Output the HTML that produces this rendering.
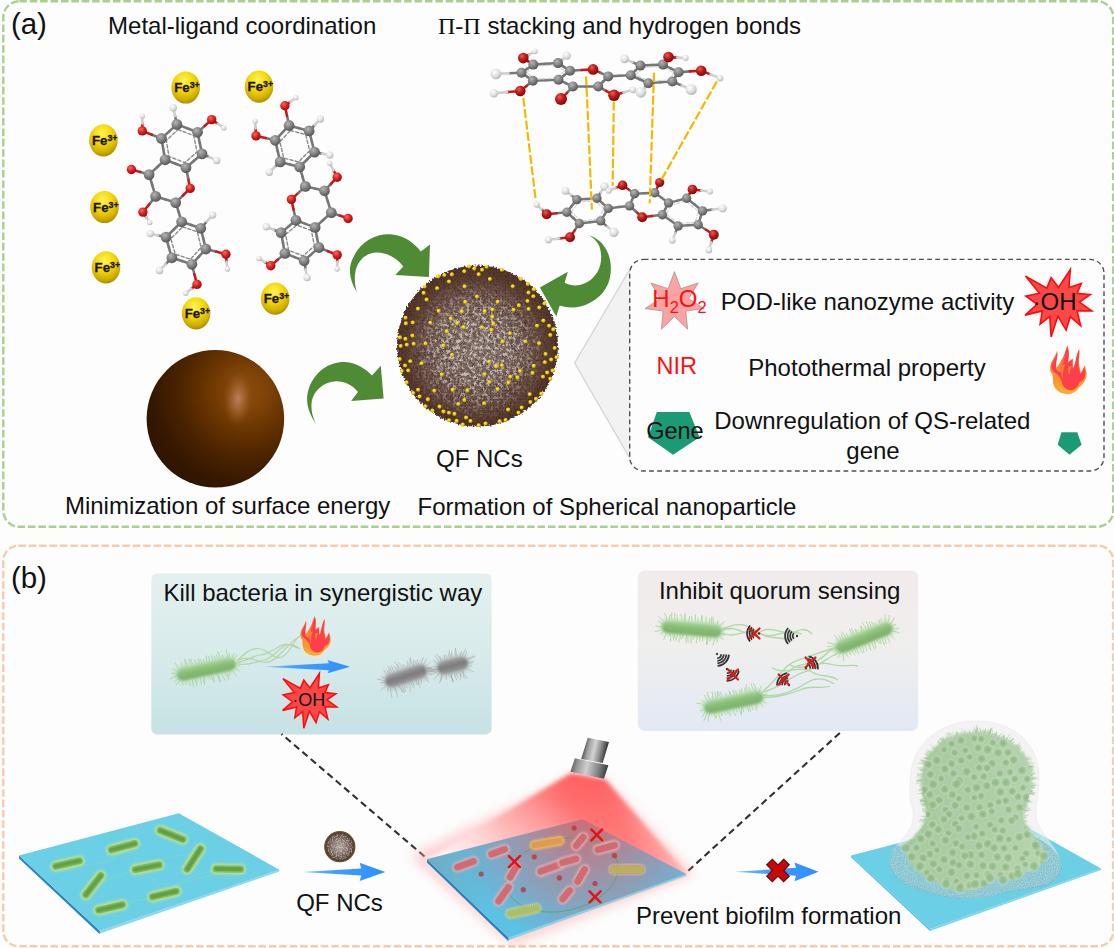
<!DOCTYPE html>
<html><head><meta charset="utf-8"><title>QF NCs schematic</title>
<style>html,body{margin:0;padding:0;background:#fdfdfd;width:1114px;height:948px;overflow:hidden;font-family:"Liberation Sans",sans-serif;}svg{display:block}</style></head>
<body><svg width="1114" height="948" viewBox="0 0 1114 948">
<defs>
<radialGradient id="gC" cx="0.38" cy="0.32" r="0.75"><stop offset="0" stop-color="#b4b4b4"/><stop offset="0.55" stop-color="#7d7d7d"/><stop offset="1" stop-color="#4e4e4e"/></radialGradient>
<radialGradient id="gO" cx="0.38" cy="0.32" r="0.75"><stop offset="0" stop-color="#ff6a5a"/><stop offset="0.5" stop-color="#d81e1e"/><stop offset="1" stop-color="#8a0a0a"/></radialGradient>
<radialGradient id="gO2" cx="0.38" cy="0.32" r="0.75"><stop offset="0" stop-color="#ee5a4e"/><stop offset="0.45" stop-color="#c01a1a"/><stop offset="1" stop-color="#6e0808"/></radialGradient>
<radialGradient id="gH" cx="0.38" cy="0.32" r="0.8"><stop offset="0" stop-color="#ffffff"/><stop offset="0.55" stop-color="#dcdcdc"/><stop offset="1" stop-color="#a4a4a4"/></radialGradient>
<radialGradient id="gFe" cx="0.45" cy="0.3" r="0.8"><stop offset="0" stop-color="#fff25e"/><stop offset="0.4" stop-color="#f4d808"/><stop offset="0.72" stop-color="#cfae00"/><stop offset="1" stop-color="#8e7600"/></radialGradient>

<radialGradient id="gBrown" cx="0.72" cy="0.3" r="0.98" fx="0.72" fy="0.3"><stop offset="0" stop-color="#8a4a0c"/><stop offset="0.14" stop-color="#814408"/><stop offset="0.3" stop-color="#683400"/><stop offset="0.5" stop-color="#4a2300"/><stop offset="0.7" stop-color="#341700"/><stop offset="1" stop-color="#271000"/></radialGradient>
<radialGradient id="gBrownHi" cx="0.5" cy="0.5" r="0.5"><stop offset="0" stop-color="#c89070" stop-opacity="0.8"/><stop offset="0.5" stop-color="#b87a50" stop-opacity="0.45"/><stop offset="1" stop-color="#a0602c" stop-opacity="0"/></radialGradient>

<radialGradient id="gNC" cx="0.5" cy="0.5" r="0.5"><stop offset="0" stop-color="#84726a"/><stop offset="0.45" stop-color="#78635a"/><stop offset="0.72" stop-color="#664a40"/><stop offset="0.9" stop-color="#593b30"/><stop offset="1" stop-color="#50342a"/></radialGradient>
<radialGradient id="gNCw" cx="0.5" cy="0.52" r="0.5"><stop offset="0" stop-color="#fff" stop-opacity="1"/><stop offset="0.55" stop-color="#fff" stop-opacity="0.85"/><stop offset="0.85" stop-color="#fff" stop-opacity="0.25"/><stop offset="1" stop-color="#fff" stop-opacity="0"/></radialGradient>
<radialGradient id="gY" cx="0.4" cy="0.35" r="0.7"><stop offset="0" stop-color="#fff04a"/><stop offset="0.55" stop-color="#e6c808"/><stop offset="1" stop-color="#a88600"/></radialGradient>
<filter id="fNC" x="-0.05" y="-0.05" width="1.1" height="1.1"><feTurbulence type="fractalNoise" baseFrequency="0.3" numOctaves="3" seed="3" result="n"/><feColorMatrix in="n" type="matrix" values="0 0 0 0 1  0 0 0 0 1  0 0 0 0 1  4.5 0 0 0 -2.0" result="m"/><feComposite in="SourceGraphic" in2="m" operator="in"/></filter>
<filter id="fNCd" x="-0.05" y="-0.05" width="1.1" height="1.1"><feTurbulence type="turbulence" baseFrequency="0.33" numOctaves="2" seed="11" result="n"/><feColorMatrix in="n" type="matrix" values="0 0 0 0 0.3  0 0 0 0 0.18  0 0 0 0 0.14  0 -5 0 0 1.1" result="m"/><feComposite in="SourceGraphic" in2="m" operator="in"/></filter>
<filter id="fNCs" x="0" y="0" width="1" height="1"><feTurbulence type="fractalNoise" baseFrequency="0.8" numOctaves="2" seed="9" result="n"/><feColorMatrix in="n" type="matrix" values="0 0 0 0 1  0 0 0 0 1  0 0 0 0 1  4 0 0 0 -1.8" result="m"/><feComposite in="SourceGraphic" in2="m" operator="in"/></filter>
<filter id="fRough" x="-0.05" y="-0.05" width="1.1" height="1.1"><feTurbulence type="fractalNoise" baseFrequency="0.5" numOctaves="2" seed="5" result="n"/><feDisplacementMap in="SourceGraphic" in2="n" scale="5" xChannelSelector="R" yChannelSelector="G"/><feGaussianBlur stdDeviation="0.4"/></filter>
<linearGradient id="gFlame" x1="0" y1="0" x2="0" y2="1"><stop offset="0" stop-color="#ff4a40"/><stop offset="0.35" stop-color="#ff7a36"/><stop offset="0.75" stop-color="#fb9a30"/><stop offset="1" stop-color="#f8b030"/></linearGradient>
<linearGradient id="gKill" x1="0" y1="0" x2="0" y2="1"><stop offset="0" stop-color="#e4f0ef"/><stop offset="0.5" stop-color="#d8ebeb"/><stop offset="1" stop-color="#c6e2e4"/></linearGradient>
<linearGradient id="gInh" x1="0" y1="0" x2="0" y2="1"><stop offset="0" stop-color="#f1ebeb"/><stop offset="0.45" stop-color="#f0efed"/><stop offset="1" stop-color="#e2e9f5"/></linearGradient>
<linearGradient id="gBlueArr" x1="0" y1="0" x2="1" y2="0"><stop offset="0" stop-color="#7cc0ff"/><stop offset="0.4" stop-color="#3f9dff"/><stop offset="1" stop-color="#2f8fff"/></linearGradient>
<filter id="blur1"><feGaussianBlur stdDeviation="1"/></filter>
<filter id="blur2"><feGaussianBlur stdDeviation="2"/></filter>
<filter id="blur3"><feGaussianBlur stdDeviation="3.2"/></filter>
<filter id="blur6"><feGaussianBlur stdDeviation="6"/></filter>
<filter id="blur05"><feGaussianBlur stdDeviation="0.5"/></filter>
<linearGradient id="gBact" x1="0" y1="0" x2="0" y2="1"><stop offset="0" stop-color="#a6d498"/><stop offset="0.45" stop-color="#86bc74"/><stop offset="1" stop-color="#7cb06a"/></linearGradient>
<linearGradient id="gBactG" x1="0" y1="0" x2="0" y2="1"><stop offset="0" stop-color="#a2a2a2"/><stop offset="0.5" stop-color="#7a7a7a"/><stop offset="1" stop-color="#9c9c9c"/></linearGradient>
<radialGradient id="gNCs" cx="0.5" cy="0.5" r="0.5"><stop offset="0" stop-color="#b0a49c"/><stop offset="0.6" stop-color="#7a665c"/><stop offset="1" stop-color="#4a362c"/></radialGradient>
<linearGradient id="gBeam" gradientUnits="userSpaceOnUse" x1="592" y1="772" x2="520" y2="900"><stop offset="0" stop-color="#ff4848" stop-opacity="1"/><stop offset="0.3" stop-color="#ff6060" stop-opacity="0.92"/><stop offset="0.6" stop-color="#ff8888" stop-opacity="0.7"/><stop offset="1" stop-color="#ffc0c0" stop-opacity="0.35"/></linearGradient>
<linearGradient id="gBeamR" gradientUnits="userSpaceOnUse" x1="585" y1="835" x2="665" y2="800"><stop offset="0" stop-color="#fff" stop-opacity="0"/><stop offset="0.45" stop-color="#fff" stop-opacity="0.15"/><stop offset="0.8" stop-color="#fff" stop-opacity="0.45"/><stop offset="1" stop-color="#fff" stop-opacity="0.7"/></linearGradient>
<linearGradient id="gBeamL" gradientUnits="userSpaceOnUse" x1="600" y1="800" x2="430" y2="860"><stop offset="0" stop-color="#fff" stop-opacity="0"/><stop offset="0.55" stop-color="#fff" stop-opacity="0.25"/><stop offset="1" stop-color="#fff" stop-opacity="0.8"/></linearGradient>
<radialGradient id="gPlate2" gradientUnits="userSpaceOnUse" cx="588" cy="812" r="138"><stop offset="0" stop-color="#d06a72"/><stop offset="0.22" stop-color="#ba7c88"/><stop offset="0.45" stop-color="#9e92a6"/><stop offset="0.66" stop-color="#88a2bc"/><stop offset="0.85" stop-color="#6cb4d6"/><stop offset="1" stop-color="#5cc2e4"/></radialGradient>
<linearGradient id="gPlate2R" gradientUnits="userSpaceOnUse" x1="427" y1="859" x2="500" y2="880"><stop offset="0" stop-color="#7e9cae" stop-opacity="0.6"/><stop offset="1" stop-color="#7e9cae" stop-opacity="0"/></linearGradient>
<linearGradient id="gLaser" gradientUnits="userSpaceOnUse" x1="572" y1="758" x2="610" y2="766"><stop offset="0" stop-color="#5a5a5a"/><stop offset="0.18" stop-color="#9a9a9a"/><stop offset="0.42" stop-color="#cfcfcf"/><stop offset="0.7" stop-color="#8a8a8a"/><stop offset="1" stop-color="#2c2c2c"/></linearGradient>
<linearGradient id="gLaserT" gradientUnits="userSpaceOnUse" x1="584" y1="747" x2="607" y2="752"><stop offset="0" stop-color="#5a5a5a"/><stop offset="0.2" stop-color="#a4a4a4"/><stop offset="0.45" stop-color="#d2d2d2"/><stop offset="0.72" stop-color="#8a8a8a"/><stop offset="1" stop-color="#303030"/></linearGradient>

<radialGradient id="gCell" cx="0.5" cy="0.5" r="0.5"><stop offset="0" stop-color="#86b27a" stop-opacity="0.85"/><stop offset="0.5" stop-color="#94bc8a" stop-opacity="0.65"/><stop offset="0.82" stop-color="#c0dcb8" stop-opacity="0.5"/><stop offset="1" stop-color="#cce4c4" stop-opacity="0"/></radialGradient>
<linearGradient id="gBio" x1="0" y1="0" x2="1" y2="0"><stop offset="0" stop-color="#a8c9a2"/><stop offset="0.5" stop-color="#accda6"/><stop offset="1" stop-color="#b6d4b0"/></linearGradient>
<clipPath id="cBio"><path d="M976.5 732 C1006 732 1032 752 1032 779 C1032 796 1024 804 1024 815 C1024 830 1038 838 1044 850 C1048 862 1038 870 1026 872 C1018 880 1006 884 996 878 C988 888 972 892 958 891 C946 890 938 884 930 878 C916 874 905 862 906 848 C908 838 924 832 926 815 C926 804 921.5 796 921.5 779 C921.5 752 946 732 976.5 732Z"/></clipPath>
<filter id="fWater" x="0" y="0" width="1" height="1"><feTurbulence type="fractalNoise" baseFrequency="0.9" numOctaves="1" seed="2" result="n"/><feColorMatrix in="n" type="matrix" values="0 0 0 0 0.85  0 0 0 0 0.95  0 0 0 0 0.95  2.5 0 0 0 -1.1" result="m"/><feComposite in="m" in2="SourceGraphic" operator="in"/></filter>
</defs>
<rect width="1114" height="948" fill="#fdfdfd"/>
<rect x="3.3" y="1.3" width="1110" height="525.5" rx="16" fill="none" stroke="#a9d18e" stroke-width="2.4" stroke-dasharray="7.6 2.8"/><rect x="3.3" y="545.7" width="1110" height="400.5" rx="15" fill="none" stroke="#f8cbad" stroke-width="2.4" stroke-dasharray="7.6 2.8"/>
<g stroke-linecap="round"><path d="M176.9 124.4L187.2 128.3" stroke="#777" stroke-width="2.6"/><path d="M187.2 128.3L197.5 132.3" stroke="#777" stroke-width="2.6"/><path d="M197.5 132.3L199.8 143.1" stroke="#777" stroke-width="2.6"/><path d="M199.8 143.1L202.0 153.9" stroke="#777" stroke-width="2.6"/><path d="M202.0 153.9L194.0 160.8" stroke="#777" stroke-width="2.6"/><path d="M194.0 160.8L186.0 167.8" stroke="#777" stroke-width="2.6"/><path d="M186.0 167.8L175.6 163.8" stroke="#777" stroke-width="2.6"/><path d="M175.6 163.8L165.1 159.8" stroke="#777" stroke-width="2.6"/><path d="M165.1 159.8L163.3 149.2" stroke="#777" stroke-width="2.6"/><path d="M163.3 149.2L161.5 138.5" stroke="#777" stroke-width="2.6"/><path d="M161.5 138.5L169.2 131.4" stroke="#777" stroke-width="2.6"/><path d="M169.2 131.4L176.9 124.4" stroke="#777" stroke-width="2.6"/><path d="M176.9 124.4L175.1 116.1" stroke="#777" stroke-width="2.6"/><path d="M175.1 116.1L173.3 107.8" stroke="#cfcfcf" stroke-width="2.6"/><path d="M202.0 153.9L209.4 157.1" stroke="#777" stroke-width="2.6"/><path d="M209.4 157.1L216.7 160.4" stroke="#cfcfcf" stroke-width="2.6"/><path d="M197.5 132.3L204.6 126.0" stroke="#777" stroke-width="2.6"/><path d="M204.6 126.0L211.7 119.6" stroke="#c81818" stroke-width="2.6"/><path d="M211.7 119.6L217.8 123.8" stroke="#c81818" stroke-width="2.6"/><path d="M217.8 123.8L223.8 127.9" stroke="#cfcfcf" stroke-width="2.6"/><path d="M161.5 138.5L151.9 134.7" stroke="#777" stroke-width="2.6"/><path d="M151.9 134.7L142.3 130.9" stroke="#c81818" stroke-width="2.6"/><path d="M142.3 130.9L142.3 123.5" stroke="#c81818" stroke-width="2.6"/><path d="M142.3 123.5L142.3 116.1" stroke="#cfcfcf" stroke-width="2.6"/><path d="M165.1 159.8L157.1 167.2" stroke="#777" stroke-width="2.6"/><path d="M157.1 167.2L149.1 174.6" stroke="#777" stroke-width="2.6"/><path d="M149.1 174.6L140.3 172.0" stroke="#777" stroke-width="2.6"/><path d="M140.3 172.0L131.4 169.5" stroke="#c81818" stroke-width="2.6"/><path d="M149.1 174.6L152.4 185.5" stroke="#777" stroke-width="2.6"/><path d="M152.4 185.5L155.6 196.4" stroke="#777" stroke-width="2.6"/><path d="M155.6 196.4L165.7 199.5" stroke="#777" stroke-width="2.6"/><path d="M165.7 199.5L175.7 202.6" stroke="#777" stroke-width="2.6"/><path d="M175.7 202.6L182.9 195.5" stroke="#777" stroke-width="2.6"/><path d="M182.9 195.5L190.2 188.4" stroke="#c81818" stroke-width="2.6"/><path d="M190.2 188.4L188.1 178.1" stroke="#c81818" stroke-width="2.6"/><path d="M188.1 178.1L186.0 167.8" stroke="#777" stroke-width="2.6"/><path d="M155.6 196.4L149.3 204.2" stroke="#777" stroke-width="2.6"/><path d="M149.3 204.2L142.9 212.1" stroke="#c81818" stroke-width="2.6"/><path d="M142.9 212.1L146.3 217.2" stroke="#c81818" stroke-width="2.6"/><path d="M146.3 217.2L149.7 222.4" stroke="#cfcfcf" stroke-width="2.6"/><path d="M175.7 202.6L178.7 212.2" stroke="#777" stroke-width="2.6"/><path d="M178.7 212.2L181.6 221.8" stroke="#777" stroke-width="2.6"/><path d="M181.6 221.8L191.2 225.0" stroke="#777" stroke-width="2.6"/><path d="M191.2 225.0L200.8 228.3" stroke="#777" stroke-width="2.6"/><path d="M200.8 228.3L203.3 238.6" stroke="#777" stroke-width="2.6"/><path d="M203.3 238.6L205.8 249.0" stroke="#777" stroke-width="2.6"/><path d="M205.8 249.0L198.9 256.6" stroke="#777" stroke-width="2.6"/><path d="M198.9 256.6L191.9 264.3" stroke="#777" stroke-width="2.6"/><path d="M191.9 264.3L181.9 261.1" stroke="#777" stroke-width="2.6"/><path d="M181.9 261.1L171.9 257.8" stroke="#777" stroke-width="2.6"/><path d="M171.9 257.8L168.9 247.5" stroke="#777" stroke-width="2.6"/><path d="M168.9 247.5L166.0 237.1" stroke="#777" stroke-width="2.6"/><path d="M166.0 237.1L173.8 229.5" stroke="#777" stroke-width="2.6"/><path d="M173.8 229.5L181.6 221.8" stroke="#777" stroke-width="2.6"/><path d="M200.8 228.3L206.7 221.6" stroke="#777" stroke-width="2.6"/><path d="M206.7 221.6L212.6 215.0" stroke="#cfcfcf" stroke-width="2.6"/><path d="M166.0 237.1L158.1 235.4" stroke="#777" stroke-width="2.6"/><path d="M158.1 235.4L150.3 233.6" stroke="#cfcfcf" stroke-width="2.6"/><path d="M171.9 257.8L165.7 264.2" stroke="#777" stroke-width="2.6"/><path d="M165.7 264.2L159.5 270.5" stroke="#cfcfcf" stroke-width="2.6"/><path d="M205.8 249.0L215.9 251.6" stroke="#777" stroke-width="2.6"/><path d="M215.9 251.6L225.9 254.3" stroke="#c81818" stroke-width="2.6"/><path d="M225.9 254.3L226.6 261.7" stroke="#c81818" stroke-width="2.6"/><path d="M226.6 261.7L227.4 269.0" stroke="#cfcfcf" stroke-width="2.6"/><path d="M191.9 264.3L194.4 274.3" stroke="#777" stroke-width="2.6"/><path d="M194.4 274.3L197.0 284.4" stroke="#c81818" stroke-width="2.6"/><path d="M197.0 284.4L191.3 288.8" stroke="#c81818" stroke-width="2.6"/><path d="M191.3 288.8L185.7 293.2" stroke="#cfcfcf" stroke-width="2.6"/><path d="M178.0 129.6L193.7 135.6L197.1 152.0L184.9 162.6L169.0 156.5L166.3 140.4Z" fill="none" stroke="#8a8a8a" stroke-width="1.4" stroke-dasharray="3.2 2.2"/><path d="M182.7 226.9L197.3 231.8L201.1 247.5L190.6 259.2L175.3 254.3L170.8 238.6Z" fill="none" stroke="#8a8a8a" stroke-width="1.4" stroke-dasharray="3.2 2.2"/><circle cx="176.9" cy="124.4" r="5.4" fill="url(#gC)"/><circle cx="197.5" cy="132.3" r="5.4" fill="url(#gC)"/><circle cx="202.0" cy="153.9" r="5.4" fill="url(#gC)"/><circle cx="186.0" cy="167.8" r="5.4" fill="url(#gC)"/><circle cx="165.1" cy="159.8" r="5.4" fill="url(#gC)"/><circle cx="161.5" cy="138.5" r="5.4" fill="url(#gC)"/><circle cx="149.1" cy="174.6" r="5.4" fill="url(#gC)"/><circle cx="155.6" cy="196.4" r="5.4" fill="url(#gC)"/><circle cx="175.7" cy="202.6" r="5.4" fill="url(#gC)"/><circle cx="181.6" cy="221.8" r="5.4" fill="url(#gC)"/><circle cx="200.8" cy="228.3" r="5.4" fill="url(#gC)"/><circle cx="205.8" cy="249.0" r="5.4" fill="url(#gC)"/><circle cx="191.9" cy="264.3" r="5.4" fill="url(#gC)"/><circle cx="171.9" cy="257.8" r="5.4" fill="url(#gC)"/><circle cx="166.0" cy="237.1" r="5.4" fill="url(#gC)"/><circle cx="173.3" cy="107.8" r="3.7" fill="url(#gH)"/><circle cx="216.7" cy="160.4" r="3.7" fill="url(#gH)"/><circle cx="211.7" cy="119.6" r="4.7" fill="url(#gO)"/><circle cx="223.8" cy="127.9" r="2.7" fill="url(#gH)"/><circle cx="142.3" cy="130.9" r="4.7" fill="url(#gO)"/><circle cx="142.3" cy="116.1" r="2.7" fill="url(#gH)"/><circle cx="131.4" cy="169.5" r="4.7" fill="url(#gO)"/><circle cx="190.2" cy="188.4" r="4.7" fill="url(#gO)"/><circle cx="142.9" cy="212.1" r="4.7" fill="url(#gO)"/><circle cx="149.7" cy="222.4" r="2.7" fill="url(#gH)"/><circle cx="212.6" cy="215.0" r="3.7" fill="url(#gH)"/><circle cx="150.3" cy="233.6" r="3.7" fill="url(#gH)"/><circle cx="159.5" cy="270.5" r="3.7" fill="url(#gH)"/><circle cx="225.9" cy="254.3" r="4.7" fill="url(#gO)"/><circle cx="227.4" cy="269.0" r="2.7" fill="url(#gH)"/><circle cx="197.0" cy="284.4" r="4.7" fill="url(#gO)"/><circle cx="185.7" cy="293.2" r="2.7" fill="url(#gH)"/></g><g stroke-linecap="round"><path d="M289.1 125.5L299.1 128.2" stroke="#777" stroke-width="2.6"/><path d="M299.1 128.2L309.1 130.9" stroke="#777" stroke-width="2.6"/><path d="M309.1 130.9L311.8 141.5" stroke="#777" stroke-width="2.6"/><path d="M311.8 141.5L314.5 152.1" stroke="#777" stroke-width="2.6"/><path d="M314.5 152.1L307.1 159.5" stroke="#777" stroke-width="2.6"/><path d="M307.1 159.5L299.7 166.9" stroke="#777" stroke-width="2.6"/><path d="M299.7 166.9L290.0 164.4" stroke="#777" stroke-width="2.6"/><path d="M290.0 164.4L280.2 161.9" stroke="#777" stroke-width="2.6"/><path d="M280.2 161.9L277.7 151.1" stroke="#777" stroke-width="2.6"/><path d="M277.7 151.1L275.2 140.3" stroke="#777" stroke-width="2.6"/><path d="M275.2 140.3L282.1 132.9" stroke="#777" stroke-width="2.6"/><path d="M282.1 132.9L289.1 125.5" stroke="#777" stroke-width="2.6"/><path d="M289.1 125.5L287.0 115.7" stroke="#777" stroke-width="2.6"/><path d="M287.0 115.7L284.9 105.8" stroke="#c81818" stroke-width="2.6"/><path d="M284.9 105.8L290.4 101.8" stroke="#c81818" stroke-width="2.6"/><path d="M290.4 101.8L295.9 97.8" stroke="#cfcfcf" stroke-width="2.6"/><path d="M275.2 140.3L265.6 138.1" stroke="#777" stroke-width="2.6"/><path d="M265.6 138.1L256.0 135.9" stroke="#c81818" stroke-width="2.6"/><path d="M256.0 135.9L255.6 128.5" stroke="#c81818" stroke-width="2.6"/><path d="M255.6 128.5L255.1 121.1" stroke="#cfcfcf" stroke-width="2.6"/><path d="M309.1 130.9L314.8 125.0" stroke="#777" stroke-width="2.6"/><path d="M314.8 125.0L320.4 119.0" stroke="#cfcfcf" stroke-width="2.6"/><path d="M314.5 152.1L322.1 153.6" stroke="#777" stroke-width="2.6"/><path d="M322.1 153.6L329.8 155.1" stroke="#cfcfcf" stroke-width="2.6"/><path d="M280.2 161.9L274.8 167.0" stroke="#777" stroke-width="2.6"/><path d="M274.8 167.0L269.3 172.2" stroke="#cfcfcf" stroke-width="2.6"/><path d="M299.7 166.9L302.5 176.6" stroke="#777" stroke-width="2.6"/><path d="M302.5 176.6L305.3 186.4" stroke="#777" stroke-width="2.6"/><path d="M305.3 186.4L314.9 188.6" stroke="#777" stroke-width="2.6"/><path d="M314.9 188.6L324.5 190.8" stroke="#777" stroke-width="2.6"/><path d="M324.5 190.8L330.9 184.0" stroke="#777" stroke-width="2.6"/><path d="M330.9 184.0L337.2 177.2" stroke="#c81818" stroke-width="2.6"/><path d="M337.2 177.2L333.5 170.3" stroke="#c81818" stroke-width="2.6"/><path d="M333.5 170.3L329.8 163.3" stroke="#cfcfcf" stroke-width="2.6"/><path d="M324.5 190.8L327.9 201.7" stroke="#777" stroke-width="2.6"/><path d="M327.9 201.7L331.3 212.6" stroke="#777" stroke-width="2.6"/><path d="M331.3 212.6L339.7 215.6" stroke="#777" stroke-width="2.6"/><path d="M339.7 215.6L348.1 218.5" stroke="#c81818" stroke-width="2.6"/><path d="M331.3 212.6L323.2 220.0" stroke="#777" stroke-width="2.6"/><path d="M323.2 220.0L315.1 227.4" stroke="#777" stroke-width="2.6"/><path d="M315.1 227.4L305.5 223.9" stroke="#777" stroke-width="2.6"/><path d="M305.5 223.9L295.9 220.3" stroke="#777" stroke-width="2.6"/><path d="M295.9 220.3L293.6 209.8" stroke="#777" stroke-width="2.6"/><path d="M293.6 209.8L291.4 199.4" stroke="#c81818" stroke-width="2.6"/><path d="M291.4 199.4L298.4 192.9" stroke="#c81818" stroke-width="2.6"/><path d="M298.4 192.9L305.3 186.4" stroke="#777" stroke-width="2.6"/><path d="M295.9 220.3L288.5 226.5" stroke="#777" stroke-width="2.6"/><path d="M288.5 226.5L281.1 232.7" stroke="#777" stroke-width="2.6"/><path d="M281.1 232.7L283.0 243.1" stroke="#777" stroke-width="2.6"/><path d="M283.0 243.1L284.9 253.4" stroke="#777" stroke-width="2.6"/><path d="M284.9 253.4L294.5 257.1" stroke="#777" stroke-width="2.6"/><path d="M294.5 257.1L304.1 260.8" stroke="#777" stroke-width="2.6"/><path d="M304.1 260.8L311.5 254.1" stroke="#777" stroke-width="2.6"/><path d="M311.5 254.1L318.9 247.5" stroke="#777" stroke-width="2.6"/><path d="M318.9 247.5L317.0 237.4" stroke="#777" stroke-width="2.6"/><path d="M317.0 237.4L315.1 227.4" stroke="#777" stroke-width="2.6"/><path d="M281.1 232.7L273.7 229.8" stroke="#777" stroke-width="2.6"/><path d="M273.7 229.8L266.3 226.8" stroke="#cfcfcf" stroke-width="2.6"/><path d="M284.9 253.4L277.9 259.6" stroke="#777" stroke-width="2.6"/><path d="M277.9 259.6L270.8 265.8" stroke="#c81818" stroke-width="2.6"/><path d="M270.8 265.8L264.9 262.1" stroke="#c81818" stroke-width="2.6"/><path d="M264.9 262.1L259.0 258.4" stroke="#cfcfcf" stroke-width="2.6"/><path d="M304.1 260.8L305.6 269.2" stroke="#777" stroke-width="2.6"/><path d="M305.6 269.2L307.1 277.6" stroke="#cfcfcf" stroke-width="2.6"/><path d="M318.9 247.5L328.0 251.2" stroke="#777" stroke-width="2.6"/><path d="M328.0 251.2L337.2 254.9" stroke="#c81818" stroke-width="2.6"/><path d="M337.2 254.9L337.2 261.9" stroke="#c81818" stroke-width="2.6"/><path d="M337.2 261.9L337.2 269.0" stroke="#cfcfcf" stroke-width="2.6"/><path d="M290.4 130.5L305.7 134.6L309.7 150.7L298.5 161.9L283.7 158.1L279.9 141.7Z" fill="none" stroke="#8a8a8a" stroke-width="1.4" stroke-dasharray="3.2 2.2"/><path d="M311.4 230.5L296.9 225.1L285.6 234.5L288.6 250.3L303.1 255.9L314.4 245.8Z" fill="none" stroke="#8a8a8a" stroke-width="1.4" stroke-dasharray="3.2 2.2"/><circle cx="289.1" cy="125.5" r="5.4" fill="url(#gC)"/><circle cx="309.1" cy="130.9" r="5.4" fill="url(#gC)"/><circle cx="314.5" cy="152.1" r="5.4" fill="url(#gC)"/><circle cx="299.7" cy="166.9" r="5.4" fill="url(#gC)"/><circle cx="280.2" cy="161.9" r="5.4" fill="url(#gC)"/><circle cx="275.2" cy="140.3" r="5.4" fill="url(#gC)"/><circle cx="305.3" cy="186.4" r="5.4" fill="url(#gC)"/><circle cx="324.5" cy="190.8" r="5.4" fill="url(#gC)"/><circle cx="331.3" cy="212.6" r="5.4" fill="url(#gC)"/><circle cx="315.1" cy="227.4" r="5.4" fill="url(#gC)"/><circle cx="295.9" cy="220.3" r="5.4" fill="url(#gC)"/><circle cx="281.1" cy="232.7" r="5.4" fill="url(#gC)"/><circle cx="284.9" cy="253.4" r="5.4" fill="url(#gC)"/><circle cx="304.1" cy="260.8" r="5.4" fill="url(#gC)"/><circle cx="318.9" cy="247.5" r="5.4" fill="url(#gC)"/><circle cx="284.9" cy="105.8" r="4.7" fill="url(#gO)"/><circle cx="295.9" cy="97.8" r="2.7" fill="url(#gH)"/><circle cx="256.0" cy="135.9" r="4.7" fill="url(#gO)"/><circle cx="255.1" cy="121.1" r="2.7" fill="url(#gH)"/><circle cx="320.4" cy="119.0" r="3.7" fill="url(#gH)"/><circle cx="329.8" cy="155.1" r="3.7" fill="url(#gH)"/><circle cx="269.3" cy="172.2" r="3.7" fill="url(#gH)"/><circle cx="337.2" cy="177.2" r="4.7" fill="url(#gO)"/><circle cx="329.8" cy="163.3" r="2.7" fill="url(#gH)"/><circle cx="348.1" cy="218.5" r="4.7" fill="url(#gO)"/><circle cx="291.4" cy="199.4" r="4.7" fill="url(#gO)"/><circle cx="266.3" cy="226.8" r="3.7" fill="url(#gH)"/><circle cx="270.8" cy="265.8" r="4.7" fill="url(#gO)"/><circle cx="259.0" cy="258.4" r="2.7" fill="url(#gH)"/><circle cx="307.1" cy="277.6" r="3.7" fill="url(#gH)"/><circle cx="337.2" cy="254.9" r="4.7" fill="url(#gO)"/><circle cx="337.2" cy="269.0" r="2.7" fill="url(#gH)"/></g><ellipse cx="185.7" cy="87.5" rx="14.3" ry="16.1" fill="url(#gFe)"/><text x="174.3" y="92.3" font-family="Liberation Sans, sans-serif" font-size="13.2" font-weight="bold" fill="#1a1400" stroke="#1a1400" stroke-width="0.3">Fe<tspan dy="-4.2" font-size="8.8">3+</tspan></text><ellipse cx="259.0" cy="86.6" rx="14.3" ry="16.1" fill="url(#gFe)"/><text x="247.6" y="91.4" font-family="Liberation Sans, sans-serif" font-size="13.2" font-weight="bold" fill="#1a1400" stroke="#1a1400" stroke-width="0.3">Fe<tspan dy="-4.2" font-size="8.8">3+</tspan></text><ellipse cx="103.4" cy="140.3" rx="14.3" ry="16.1" fill="url(#gFe)"/><text x="92.0" y="145.1" font-family="Liberation Sans, sans-serif" font-size="13.2" font-weight="bold" fill="#1a1400" stroke="#1a1400" stroke-width="0.3">Fe<tspan dy="-4.2" font-size="8.8">3+</tspan></text><ellipse cx="104.5" cy="207.0" rx="14.3" ry="16.1" fill="url(#gFe)"/><text x="93.1" y="211.8" font-family="Liberation Sans, sans-serif" font-size="13.2" font-weight="bold" fill="#1a1400" stroke="#1a1400" stroke-width="0.3">Fe<tspan dy="-4.2" font-size="8.8">3+</tspan></text><ellipse cx="106.0" cy="267.3" rx="14.3" ry="16.1" fill="url(#gFe)"/><text x="94.6" y="272.1" font-family="Liberation Sans, sans-serif" font-size="13.2" font-weight="bold" fill="#1a1400" stroke="#1a1400" stroke-width="0.3">Fe<tspan dy="-4.2" font-size="8.8">3+</tspan></text><ellipse cx="196.1" cy="313.3" rx="14.3" ry="16.1" fill="url(#gFe)"/><text x="184.7" y="318.1" font-family="Liberation Sans, sans-serif" font-size="13.2" font-weight="bold" fill="#1a1400" stroke="#1a1400" stroke-width="0.3">Fe<tspan dy="-4.2" font-size="8.8">3+</tspan></text><ellipse cx="275.2" cy="298.6" rx="14.3" ry="16.1" fill="url(#gFe)"/><text x="263.8" y="303.4" font-family="Liberation Sans, sans-serif" font-size="13.2" font-weight="bold" fill="#1a1400" stroke="#1a1400" stroke-width="0.3">Fe<tspan dy="-4.2" font-size="8.8">3+</tspan></text><g stroke-linecap="round"><path d="M521.5 72.7L527.4 68.7" stroke="#777" stroke-width="2.6"/><path d="M527.4 68.7L533.3 64.6" stroke="#777" stroke-width="2.6"/><path d="M533.3 64.6L545.6 63.9" stroke="#777" stroke-width="2.6"/><path d="M545.6 63.9L558.0 63.1" stroke="#777" stroke-width="2.6"/><path d="M558.0 63.1L564.0 66.9" stroke="#777" stroke-width="2.6"/><path d="M564.0 66.9L570.0 70.7" stroke="#777" stroke-width="2.6"/><path d="M570.0 70.7L564.2 75.2" stroke="#777" stroke-width="2.6"/><path d="M564.2 75.2L558.5 79.7" stroke="#777" stroke-width="2.6"/><path d="M558.5 79.7L545.6 80.2" stroke="#777" stroke-width="2.6"/><path d="M545.6 80.2L532.8 80.7" stroke="#777" stroke-width="2.6"/><path d="M532.8 80.7L527.2 76.7" stroke="#777" stroke-width="2.6"/><path d="M527.2 76.7L521.5 72.7" stroke="#777" stroke-width="2.6"/><path d="M533.3 64.6L528.3 61.4" stroke="#777" stroke-width="2.6"/><path d="M528.3 61.4L523.3 58.1" stroke="#c81818" stroke-width="2.6"/><path d="M523.3 58.1L529.1 54.7" stroke="#c81818" stroke-width="2.6"/><path d="M529.1 54.7L534.8 51.3" stroke="#cfcfcf" stroke-width="2.6"/><path d="M558.0 63.1L562.4 59.4" stroke="#777" stroke-width="2.6"/><path d="M562.4 59.4L566.8 55.6" stroke="#cfcfcf" stroke-width="2.6"/><path d="M521.5 72.7L508.7 73.3" stroke="#777" stroke-width="2.6"/><path d="M508.7 73.3L495.9 73.9" stroke="#cfcfcf" stroke-width="2.6"/><path d="M532.8 80.7L526.5 85.9" stroke="#777" stroke-width="2.6"/><path d="M526.5 85.9L520.3 91.0" stroke="#c81818" stroke-width="2.6"/><path d="M520.3 91.0L507.1 92.1" stroke="#c81818" stroke-width="2.6"/><path d="M507.1 92.1L493.9 93.3" stroke="#cfcfcf" stroke-width="2.6"/><path d="M570.0 70.7L581.6 70.0" stroke="#777" stroke-width="2.6"/><path d="M581.6 70.0L593.1 69.4" stroke="#c81818" stroke-width="2.6"/><path d="M593.1 69.4L600.7 72.9" stroke="#c81818" stroke-width="2.6"/><path d="M600.7 72.9L608.2 76.4" stroke="#777" stroke-width="2.6"/><path d="M608.2 76.4L603.2 81.5" stroke="#777" stroke-width="2.6"/><path d="M603.2 81.5L598.2 86.5" stroke="#777" stroke-width="2.6"/><path d="M598.2 86.5L585.6 86.5" stroke="#777" stroke-width="2.6"/><path d="M585.6 86.5L573.0 86.5" stroke="#777" stroke-width="2.6"/><path d="M573.0 86.5L565.8 83.1" stroke="#777" stroke-width="2.6"/><path d="M565.8 83.1L558.5 79.7" stroke="#777" stroke-width="2.6"/><path d="M573.0 86.5L567.0 92.8" stroke="#777" stroke-width="2.6"/><path d="M567.0 92.8L561.0 99.1" stroke="#c81818" stroke-width="2.6"/><path d="M598.2 86.5L606.1 90.9" stroke="#777" stroke-width="2.6"/><path d="M606.1 90.9L614.0 95.3" stroke="#c81818" stroke-width="2.6"/><path d="M614.0 95.3L623.4 92.5" stroke="#c81818" stroke-width="2.6"/><path d="M623.4 92.5L632.9 89.8" stroke="#cfcfcf" stroke-width="2.6"/><path d="M608.2 76.4L619.5 75.8" stroke="#777" stroke-width="2.6"/><path d="M619.5 75.8L630.8 75.2" stroke="#777" stroke-width="2.6"/><path d="M630.8 75.2L635.6 70.4" stroke="#777" stroke-width="2.6"/><path d="M635.6 70.4L640.4 65.6" stroke="#777" stroke-width="2.6"/><path d="M640.4 65.6L651.7 65.1" stroke="#777" stroke-width="2.6"/><path d="M651.7 65.1L663.0 64.6" stroke="#777" stroke-width="2.6"/><path d="M663.0 64.6L670.8 68.4" stroke="#777" stroke-width="2.6"/><path d="M670.8 68.4L678.6 72.2" stroke="#777" stroke-width="2.6"/><path d="M678.6 72.2L675.5 76.8" stroke="#777" stroke-width="2.6"/><path d="M675.5 76.8L672.3 81.5" stroke="#777" stroke-width="2.6"/><path d="M672.3 81.5L660.4 82.3" stroke="#777" stroke-width="2.6"/><path d="M660.4 82.3L648.4 83.2" stroke="#777" stroke-width="2.6"/><path d="M648.4 83.2L639.6 79.2" stroke="#777" stroke-width="2.6"/><path d="M639.6 79.2L630.8 75.2" stroke="#777" stroke-width="2.6"/><path d="M640.4 65.6L632.5 62.2" stroke="#777" stroke-width="2.6"/><path d="M632.5 62.2L624.6 58.8" stroke="#cfcfcf" stroke-width="2.6"/><path d="M663.0 64.6L665.8 60.9" stroke="#777" stroke-width="2.6"/><path d="M665.8 60.9L668.5 57.1" stroke="#c81818" stroke-width="2.6"/><path d="M668.5 57.1L677.1 57.6" stroke="#c81818" stroke-width="2.6"/><path d="M677.1 57.6L685.6 58.1" stroke="#cfcfcf" stroke-width="2.6"/><path d="M678.6 72.2L689.9 71.4" stroke="#777" stroke-width="2.6"/><path d="M689.9 71.4L701.2 70.7" stroke="#c81818" stroke-width="2.6"/><path d="M701.2 70.7L710.6 74.4" stroke="#c81818" stroke-width="2.6"/><path d="M710.6 74.4L720.1 78.2" stroke="#cfcfcf" stroke-width="2.6"/><path d="M672.3 81.5L681.7 85.5" stroke="#777" stroke-width="2.6"/><path d="M681.7 85.5L691.2 89.5" stroke="#cfcfcf" stroke-width="2.6"/><path d="M648.4 83.2L644.7 87.8" stroke="#777" stroke-width="2.6"/><path d="M644.7 87.8L640.9 92.3" stroke="#cfcfcf" stroke-width="2.6"/><path d="M526.4 72.5L535.8 66.1L555.5 64.9L565.2 70.9L555.9 78.2L535.4 79.0Z" fill="none" stroke="#d6d6d6" stroke-width="1.3" stroke-dasharray="3.2 2.2"/><path d="M635.8 74.9L643.4 67.3L661.5 66.4L674.0 72.5L669.0 79.9L649.9 81.3Z" fill="none" stroke="#d6d6d6" stroke-width="1.3" stroke-dasharray="3.2 2.2"/><circle cx="521.5" cy="72.7" r="5.0" fill="url(#gC)"/><circle cx="533.3" cy="64.6" r="5.0" fill="url(#gC)"/><circle cx="558.0" cy="63.1" r="5.0" fill="url(#gC)"/><circle cx="570.0" cy="70.7" r="5.0" fill="url(#gC)"/><circle cx="558.5" cy="79.7" r="5.0" fill="url(#gC)"/><circle cx="532.8" cy="80.7" r="5.0" fill="url(#gC)"/><circle cx="608.2" cy="76.4" r="5.0" fill="url(#gC)"/><circle cx="598.2" cy="86.5" r="5.0" fill="url(#gC)"/><circle cx="573.0" cy="86.5" r="5.0" fill="url(#gC)"/><circle cx="630.8" cy="75.2" r="5.0" fill="url(#gC)"/><circle cx="640.4" cy="65.6" r="5.0" fill="url(#gC)"/><circle cx="663.0" cy="64.6" r="5.0" fill="url(#gC)"/><circle cx="678.6" cy="72.2" r="5.0" fill="url(#gC)"/><circle cx="672.3" cy="81.5" r="5.0" fill="url(#gC)"/><circle cx="648.4" cy="83.2" r="5.0" fill="url(#gC)"/><circle cx="523.3" cy="58.1" r="5.3" fill="url(#gO2)"/><circle cx="534.8" cy="51.3" r="2.9" fill="url(#gH)"/><circle cx="566.8" cy="55.6" r="4.2" fill="url(#gH)"/><circle cx="495.9" cy="73.9" r="5.4" fill="url(#gH)"/><circle cx="520.3" cy="91.0" r="5.3" fill="url(#gO2)"/><circle cx="493.9" cy="93.3" r="4.2" fill="url(#gH)"/><circle cx="593.1" cy="69.4" r="5.3" fill="url(#gO2)"/><circle cx="561.0" cy="99.1" r="6.0" fill="url(#gO2)"/><circle cx="614.0" cy="95.3" r="5.8" fill="url(#gO2)"/><circle cx="632.9" cy="89.8" r="3.4" fill="url(#gH)"/><circle cx="640.9" cy="92.3" r="5.4" fill="url(#gH)"/><circle cx="624.6" cy="58.8" r="4.4" fill="url(#gH)"/><circle cx="668.5" cy="57.1" r="5.3" fill="url(#gO2)"/><circle cx="685.6" cy="58.1" r="3.0" fill="url(#gH)"/><circle cx="701.2" cy="70.7" r="5.3" fill="url(#gO2)"/><circle cx="720.1" cy="78.2" r="3.2" fill="url(#gH)"/><circle cx="691.2" cy="89.5" r="5.6" fill="url(#gH)"/></g><g stroke-linecap="round"><path d="M566.8 212.2L571.8 205.9" stroke="#777" stroke-width="2.5"/><path d="M571.8 205.9L576.8 199.6" stroke="#777" stroke-width="2.5"/><path d="M576.8 199.6L586.9 199.0" stroke="#777" stroke-width="2.5"/><path d="M586.9 199.0L596.9 198.3" stroke="#777" stroke-width="2.5"/><path d="M596.9 198.3L602.6 203.4" stroke="#777" stroke-width="2.5"/><path d="M602.6 203.4L608.2 208.4" stroke="#777" stroke-width="2.5"/><path d="M608.2 208.4L604.5 214.7" stroke="#777" stroke-width="2.5"/><path d="M604.5 214.7L600.7 220.9" stroke="#777" stroke-width="2.5"/><path d="M600.7 220.9L590.0 222.2" stroke="#777" stroke-width="2.5"/><path d="M590.0 222.2L579.3 223.5" stroke="#777" stroke-width="2.5"/><path d="M579.3 223.5L573.0 217.8" stroke="#777" stroke-width="2.5"/><path d="M573.0 217.8L566.8 212.2" stroke="#777" stroke-width="2.5"/><path d="M576.8 199.6L571.2 195.2" stroke="#777" stroke-width="2.5"/><path d="M571.2 195.2L565.5 190.8" stroke="#cfcfcf" stroke-width="2.5"/><path d="M596.9 198.3L600.7 192.4" stroke="#777" stroke-width="2.5"/><path d="M600.7 192.4L604.5 186.5" stroke="#cfcfcf" stroke-width="2.5"/><path d="M566.8 212.2L556.7 213.2" stroke="#777" stroke-width="2.5"/><path d="M556.7 213.2L546.7 214.2" stroke="#c81818" stroke-width="2.5"/><path d="M546.7 214.2L541.6 209.4" stroke="#c81818" stroke-width="2.5"/><path d="M541.6 209.4L536.6 204.6" stroke="#cfcfcf" stroke-width="2.5"/><path d="M579.3 223.5L574.7 230.4" stroke="#777" stroke-width="2.5"/><path d="M574.7 230.4L570.0 237.3" stroke="#c81818" stroke-width="2.5"/><path d="M570.0 237.3L559.2 238.5" stroke="#c81818" stroke-width="2.5"/><path d="M559.2 238.5L548.4 239.8" stroke="#cfcfcf" stroke-width="2.5"/><path d="M600.7 220.9L607.2 226.6" stroke="#777" stroke-width="2.5"/><path d="M607.2 226.6L613.8 232.3" stroke="#cfcfcf" stroke-width="2.5"/><path d="M608.2 208.4L618.9 207.1" stroke="#777" stroke-width="2.5"/><path d="M618.9 207.1L629.6 205.9" stroke="#777" stroke-width="2.5"/><path d="M629.6 205.9L632.1 199.8" stroke="#777" stroke-width="2.5"/><path d="M632.1 199.8L634.6 193.8" stroke="#777" stroke-width="2.5"/><path d="M634.6 193.8L644.7 193.3" stroke="#777" stroke-width="2.5"/><path d="M644.7 193.3L654.7 192.8" stroke="#777" stroke-width="2.5"/><path d="M654.7 192.8L661.6 197.8" stroke="#777" stroke-width="2.5"/><path d="M661.6 197.8L668.5 202.9" stroke="#777" stroke-width="2.5"/><path d="M668.5 202.9L665.4 208.8" stroke="#777" stroke-width="2.5"/><path d="M665.4 208.8L662.3 214.7" stroke="#777" stroke-width="2.5"/><path d="M662.3 214.7L652.2 215.9" stroke="#777" stroke-width="2.5"/><path d="M652.2 215.9L642.2 217.2" stroke="#c81818" stroke-width="2.5"/><path d="M642.2 217.2L635.9 211.5" stroke="#c81818" stroke-width="2.5"/><path d="M635.9 211.5L629.6 205.9" stroke="#777" stroke-width="2.5"/><path d="M634.6 193.8L628.6 189.5" stroke="#777" stroke-width="2.5"/><path d="M628.6 189.5L622.6 185.3" stroke="#c81818" stroke-width="2.5"/><path d="M622.6 185.3L615.6 188.0" stroke="#c81818" stroke-width="2.5"/><path d="M615.6 188.0L608.7 190.8" stroke="#cfcfcf" stroke-width="2.5"/><path d="M654.7 192.8L657.2 187.7" stroke="#777" stroke-width="2.5"/><path d="M657.2 187.7L659.7 182.5" stroke="#c81818" stroke-width="2.5"/><path d="M668.5 202.9L677.6 200.6" stroke="#777" stroke-width="2.5"/><path d="M677.6 200.6L686.6 198.3" stroke="#777" stroke-width="2.5"/><path d="M686.6 198.3L694.6 204.6" stroke="#777" stroke-width="2.5"/><path d="M694.6 204.6L702.5 210.9" stroke="#777" stroke-width="2.5"/><path d="M702.5 210.9L700.3 217.8" stroke="#777" stroke-width="2.5"/><path d="M700.3 217.8L698.2 224.7" stroke="#777" stroke-width="2.5"/><path d="M698.2 224.7L688.1 225.3" stroke="#777" stroke-width="2.5"/><path d="M688.1 225.3L678.1 226.0" stroke="#777" stroke-width="2.5"/><path d="M678.1 226.0L670.2 220.3" stroke="#777" stroke-width="2.5"/><path d="M670.2 220.3L662.3 214.7" stroke="#777" stroke-width="2.5"/><path d="M686.6 198.3L689.5 193.9" stroke="#777" stroke-width="2.5"/><path d="M689.5 193.9L692.4 189.5" stroke="#c81818" stroke-width="2.5"/><path d="M692.4 189.5L701.2 190.5" stroke="#c81818" stroke-width="2.5"/><path d="M701.2 190.5L710.0 191.5" stroke="#cfcfcf" stroke-width="2.5"/><path d="M702.5 210.9L712.5 209.6" stroke="#777" stroke-width="2.5"/><path d="M712.5 209.6L722.6 208.4" stroke="#cfcfcf" stroke-width="2.5"/><path d="M698.2 224.7L706.0 229.7" stroke="#777" stroke-width="2.5"/><path d="M706.0 229.7L713.8 234.8" stroke="#c81818" stroke-width="2.5"/><path d="M713.8 234.8L711.3 242.3" stroke="#c81818" stroke-width="2.5"/><path d="M711.3 242.3L708.8 249.9" stroke="#cfcfcf" stroke-width="2.5"/><path d="M678.1 226.0L675.2 233.1" stroke="#777" stroke-width="2.5"/><path d="M675.2 233.1L672.3 240.3" stroke="#cfcfcf" stroke-width="2.5"/><path d="M571.0 211.8L579.1 201.8L595.2 200.8L604.2 208.8L598.2 218.9L581.1 220.9Z" fill="none" stroke="#d6d6d6" stroke-width="1.3" stroke-dasharray="3.2 2.2"/><path d="M671.4 204.9L685.8 201.2L698.5 211.3L695.1 222.4L679.0 223.4L666.3 214.3Z" fill="none" stroke="#d6d6d6" stroke-width="1.3" stroke-dasharray="3.2 2.2"/><circle cx="566.8" cy="212.2" r="4.7" fill="url(#gC)"/><circle cx="576.8" cy="199.6" r="4.7" fill="url(#gC)"/><circle cx="596.9" cy="198.3" r="4.7" fill="url(#gC)"/><circle cx="608.2" cy="208.4" r="4.7" fill="url(#gC)"/><circle cx="600.7" cy="220.9" r="4.7" fill="url(#gC)"/><circle cx="579.3" cy="223.5" r="4.7" fill="url(#gC)"/><circle cx="629.6" cy="205.9" r="4.7" fill="url(#gC)"/><circle cx="634.6" cy="193.8" r="4.7" fill="url(#gC)"/><circle cx="654.7" cy="192.8" r="4.7" fill="url(#gC)"/><circle cx="668.5" cy="202.9" r="4.7" fill="url(#gC)"/><circle cx="662.3" cy="214.7" r="4.7" fill="url(#gC)"/><circle cx="686.6" cy="198.3" r="4.7" fill="url(#gC)"/><circle cx="702.5" cy="210.9" r="4.7" fill="url(#gC)"/><circle cx="698.2" cy="224.7" r="4.7" fill="url(#gC)"/><circle cx="678.1" cy="226.0" r="4.7" fill="url(#gC)"/><circle cx="565.5" cy="190.8" r="3.9" fill="url(#gH)"/><circle cx="604.5" cy="186.5" r="4.2" fill="url(#gH)"/><circle cx="546.7" cy="214.2" r="5.0" fill="url(#gO2)"/><circle cx="536.6" cy="204.6" r="3.1" fill="url(#gH)"/><circle cx="570.0" cy="237.3" r="5.0" fill="url(#gO2)"/><circle cx="548.4" cy="239.8" r="3.6" fill="url(#gH)"/><circle cx="613.8" cy="232.3" r="4.8" fill="url(#gH)"/><circle cx="642.2" cy="217.2" r="5.0" fill="url(#gO2)"/><circle cx="622.6" cy="185.3" r="4.8" fill="url(#gO2)"/><circle cx="608.7" cy="190.8" r="3.0" fill="url(#gH)"/><circle cx="659.7" cy="182.5" r="4.6" fill="url(#gO2)"/><circle cx="692.4" cy="189.5" r="4.8" fill="url(#gO2)"/><circle cx="710.0" cy="191.5" r="3.0" fill="url(#gH)"/><circle cx="722.6" cy="208.4" r="4.2" fill="url(#gH)"/><circle cx="713.8" cy="234.8" r="5.0" fill="url(#gO2)"/><circle cx="708.8" cy="249.9" r="3.4" fill="url(#gH)"/><circle cx="672.3" cy="240.3" r="3.4" fill="url(#gH)"/></g><path d="M523.3 97.8L535.8 200.8" stroke="#f5b800" stroke-width="2.2" stroke-dasharray="9 2.5" fill="none"/><path d="M586.1 76.4L591.9 209.6" stroke="#f5b800" stroke-width="2.2" stroke-dasharray="9 2.5" fill="none"/><path d="M613.8 101.6L612.7 185.8" stroke="#f5b800" stroke-width="2.2" stroke-dasharray="9 2.5" fill="none"/><path d="M654.0 72.7L649.7 203.4" stroke="#f5b800" stroke-width="2.2" stroke-dasharray="9 2.5" fill="none"/><path d="M716.8 81.5L661.5 179.5" stroke="#f5b800" stroke-width="2.2" stroke-dasharray="9 2.5" fill="none"/><circle cx="215.4" cy="418.8" r="68.8" fill="url(#gBrown)"/><ellipse cx="238" cy="399" rx="14" ry="27" fill="url(#gBrownHi)" transform="rotate(3 238 399)"/><circle cx="477.5" cy="346" r="80.5" fill="url(#gNC)" filter="url(#fRough)"/><circle cx="477.5" cy="348" r="72.5" fill="url(#gNCw)" filter="url(#fNC)" opacity="0.62"/><circle cx="477.5" cy="346" r="79.5" fill="#3a241c" filter="url(#fNCd)" opacity="0.6"/><circle cx="521.7" cy="407.6" r="2.05" fill="url(#gY)"/><circle cx="532.6" cy="373.0" r="2.05" fill="url(#gY)"/><circle cx="547.2" cy="372.6" r="2.05" fill="url(#gY)"/><circle cx="544.9" cy="362.2" r="2.05" fill="url(#gY)"/><circle cx="543.0" cy="376.7" r="2.05" fill="url(#gY)"/><circle cx="406.6" cy="382.4" r="2.05" fill="url(#gY)"/><circle cx="537.0" cy="325.7" r="2.05" fill="url(#gY)"/><circle cx="550.3" cy="335.1" r="2.05" fill="url(#gY)"/><circle cx="527.8" cy="283.9" r="2.05" fill="url(#gY)"/><circle cx="449.0" cy="420.2" r="2.05" fill="url(#gY)"/><circle cx="497.6" cy="389.1" r="2.05" fill="url(#gY)"/><circle cx="434.3" cy="390.7" r="2.05" fill="url(#gY)"/><circle cx="444.3" cy="275.0" r="2.05" fill="url(#gY)"/><circle cx="449.0" cy="412.7" r="2.05" fill="url(#gY)"/><circle cx="412.4" cy="335.6" r="2.05" fill="url(#gY)"/><circle cx="464.4" cy="400.1" r="2.05" fill="url(#gY)"/><circle cx="438.2" cy="276.4" r="2.05" fill="url(#gY)"/><circle cx="430.3" cy="322.7" r="2.05" fill="url(#gY)"/><circle cx="451.9" cy="274.4" r="2.05" fill="url(#gY)"/><circle cx="539.1" cy="343.3" r="2.05" fill="url(#gY)"/><circle cx="419.6" cy="396.5" r="2.05" fill="url(#gY)"/><circle cx="536.0" cy="398.9" r="2.05" fill="url(#gY)"/><circle cx="486.6" cy="266.7" r="2.05" fill="url(#gY)"/><circle cx="478.7" cy="425.3" r="2.05" fill="url(#gY)"/><circle cx="528.5" cy="292.6" r="2.05" fill="url(#gY)"/><circle cx="401.8" cy="371.0" r="2.05" fill="url(#gY)"/><circle cx="527.5" cy="301.0" r="2.05" fill="url(#gY)"/><circle cx="533.4" cy="296.2" r="2.05" fill="url(#gY)"/><circle cx="485.6" cy="423.5" r="2.05" fill="url(#gY)"/><circle cx="418.0" cy="308.7" r="2.05" fill="url(#gY)"/><circle cx="554.7" cy="348.0" r="2.05" fill="url(#gY)"/><circle cx="427.9" cy="399.4" r="2.05" fill="url(#gY)"/><circle cx="426.6" cy="299.6" r="2.05" fill="url(#gY)"/><circle cx="533.8" cy="365.9" r="2.05" fill="url(#gY)"/><circle cx="513.6" cy="309.7" r="2.05" fill="url(#gY)"/><circle cx="418.1" cy="389.8" r="2.05" fill="url(#gY)"/><circle cx="424.6" cy="286.5" r="2.05" fill="url(#gY)"/><circle cx="550.3" cy="378.8" r="2.05" fill="url(#gY)"/><circle cx="518.5" cy="412.7" r="2.05" fill="url(#gY)"/><circle cx="425.4" cy="406.2" r="2.05" fill="url(#gY)"/><circle cx="533.8" cy="289.2" r="2.05" fill="url(#gY)"/><circle cx="541.3" cy="393.7" r="2.05" fill="url(#gY)"/><circle cx="470.5" cy="421.0" r="2.05" fill="url(#gY)"/><circle cx="491.4" cy="329.9" r="2.05" fill="url(#gY)"/><circle cx="489.9" cy="279.0" r="2.05" fill="url(#gY)"/><circle cx="525.4" cy="341.5" r="2.05" fill="url(#gY)"/><circle cx="497.7" cy="301.8" r="2.05" fill="url(#gY)"/><circle cx="400.0" cy="337.4" r="2.05" fill="url(#gY)"/><circle cx="551.2" cy="359.6" r="2.05" fill="url(#gY)"/><circle cx="462.8" cy="424.6" r="2.05" fill="url(#gY)"/><circle cx="452.1" cy="354.7" r="2.05" fill="url(#gY)"/><circle cx="499.7" cy="421.3" r="2.05" fill="url(#gY)"/><circle cx="528.6" cy="309.0" r="2.05" fill="url(#gY)"/><circle cx="437.1" cy="288.2" r="2.05" fill="url(#gY)"/><circle cx="520.0" cy="371.0" r="2.05" fill="url(#gY)"/><circle cx="484.7" cy="311.2" r="2.05" fill="url(#gY)"/><circle cx="508.1" cy="409.6" r="2.05" fill="url(#gY)"/><circle cx="452.6" cy="389.7" r="2.05" fill="url(#gY)"/><circle cx="405.9" cy="323.4" r="2.05" fill="url(#gY)"/><circle cx="463.7" cy="327.1" r="2.05" fill="url(#gY)"/><circle cx="544.5" cy="303.5" r="2.05" fill="url(#gY)"/><circle cx="405.1" cy="365.5" r="2.05" fill="url(#gY)"/><circle cx="443.3" cy="345.6" r="2.05" fill="url(#gY)"/><circle cx="545.6" cy="354.0" r="2.05" fill="url(#gY)"/><circle cx="501.8" cy="269.8" r="2.05" fill="url(#gY)"/><circle cx="399.8" cy="359.1" r="2.05" fill="url(#gY)"/><circle cx="412.8" cy="322.5" r="2.05" fill="url(#gY)"/><circle cx="517.4" cy="377.4" r="2.05" fill="url(#gY)"/><circle cx="425.6" cy="343.5" r="2.05" fill="url(#gY)"/><circle cx="413.7" cy="343.8" r="2.05" fill="url(#gY)"/><circle cx="421.6" cy="363.3" r="2.05" fill="url(#gY)"/><circle cx="543.4" cy="320.6" r="2.05" fill="url(#gY)"/><circle cx="518.9" cy="305.4" r="2.05" fill="url(#gY)"/><circle cx="405.5" cy="317.7" r="2.05" fill="url(#gY)"/><circle cx="405.4" cy="338.9" r="2.05" fill="url(#gY)"/><circle cx="464.3" cy="271.2" r="2.05" fill="url(#gY)"/><circle cx="423.7" cy="292.9" r="2.05" fill="url(#gY)"/><circle cx="482.1" cy="327.2" r="2.05" fill="url(#gY)"/><circle cx="530.4" cy="402.1" r="2.05" fill="url(#gY)"/><circle cx="539.3" cy="307.6" r="2.05" fill="url(#gY)"/><circle cx="446.8" cy="331.4" r="2.05" fill="url(#gY)"/><circle cx="457.2" cy="323.2" r="2.05" fill="url(#gY)"/><circle cx="439.5" cy="406.6" r="2.05" fill="url(#gY)"/><circle cx="552.6" cy="370.6" r="2.05" fill="url(#gY)"/><circle cx="482.1" cy="269.8" r="2.05" fill="url(#gY)"/><circle cx="400.8" cy="346.0" r="2.05" fill="url(#gY)"/><circle cx="432.4" cy="410.6" r="2.05" fill="url(#gY)"/><circle cx="469.0" cy="266.5" r="2.05" fill="url(#gY)"/><circle cx="502.0" cy="365.3" r="2.05" fill="url(#gY)"/><circle cx="441.8" cy="374.3" r="2.05" fill="url(#gY)"/><circle cx="465.2" cy="301.9" r="2.05" fill="url(#gY)"/><circle cx="520.8" cy="279.0" r="2.05" fill="url(#gY)"/><circle cx="456.7" cy="420.9" r="2.05" fill="url(#gY)"/><circle cx="502.7" cy="341.6" r="2.05" fill="url(#gY)"/><circle cx="553.3" cy="329.4" r="2.05" fill="url(#gY)"/><circle cx="406.8" cy="344.8" r="2.05" fill="url(#gY)"/><circle cx="413.2" cy="393.0" r="2.05" fill="url(#gY)"/><circle cx="556.6" cy="357.3" r="2.05" fill="url(#gY)"/><circle cx="464.6" cy="286.4" r="2.05" fill="url(#gY)"/><circle cx="443.5" cy="411.6" r="2.05" fill="url(#gY)"/><circle cx="489.0" cy="361.7" r="2.05" fill="url(#gY)"/><circle cx="450.9" cy="318.6" r="2.05" fill="url(#gY)"/><circle cx="508.3" cy="382.8" r="2.05" fill="url(#gY)"/><circle cx="512.8" cy="286.2" r="2.05" fill="url(#gY)"/><circle cx="461.9" cy="311.3" r="2.05" fill="url(#gY)"/><circle cx="477.0" cy="296.5" r="2.05" fill="url(#gY)"/><circle cx="449.0" cy="281.5" r="2.05" fill="url(#gY)"/><circle cx="438.6" cy="310.9" r="2.05" fill="url(#gY)"/><circle cx="474.2" cy="268.6" r="2.05" fill="url(#gY)"/><circle cx="410.3" cy="361.2" r="2.05" fill="url(#gY)"/><circle cx="529.8" cy="394.2" r="2.05" fill="url(#gY)"/><circle cx="489.4" cy="382.0" r="2.05" fill="url(#gY)"/><circle cx="484.6" cy="374.2" r="2.05" fill="url(#gY)"/><circle cx="496.1" cy="366.5" r="2.05" fill="url(#gY)"/><circle cx="484.2" cy="403.3" r="2.05" fill="url(#gY)"/><circle cx="454.5" cy="413.9" r="2.05" fill="url(#gY)"/><circle cx="510.3" cy="376.8" r="2.05" fill="url(#gY)"/><circle cx="466.1" cy="417.6" r="2.05" fill="url(#gY)"/><circle cx="467.4" cy="390.4" r="2.05" fill="url(#gY)"/><circle cx="549.1" cy="325.8" r="2.05" fill="url(#gY)"/><circle cx="492.4" cy="309.6" r="2.05" fill="url(#gY)"/><circle cx="510.0" cy="333.3" r="2.05" fill="url(#gY)"/><circle cx="478.7" cy="274.3" r="2.05" fill="url(#gY)"/><circle cx="458.3" cy="404.0" r="2.05" fill="url(#gY)"/><circle cx="505.6" cy="420.1" r="2.05" fill="url(#gY)"/><circle cx="408.2" cy="370.5" r="2.05" fill="url(#gY)"/><circle cx="493.4" cy="323.7" r="2.05" fill="url(#gY)"/><circle cx="492.4" cy="317.0" r="2.05" fill="url(#gY)"/><path d="M356.9 292 C349 280 348 268 353 258 C361 240 378 233 392 234.5 C405 236 414 243 420.8 251.4 L430 244.4 L428.9 276.9 L395.2 275 L403.3 266.4 C397 258 388 253 376.6 252.5 C366 253 358 260 355.5 271 C354 279 355 286 356.9 292Z" fill="#4f8b35"/><path d="M316.3 424.4 C307 411 305 399 309 388 C315 371 330 361.5 345 362 C357 363 366 369 372 375.6 L380.8 365.8 L383.6 398.4 L351.1 401.1 L358 391.9 C352 385 344 381 334.8 381.4 C324 382 314 390 311.8 401 C310.5 410 313 418 316.3 424.4Z" fill="#4f8b35"/><path d="M588.4 235.1 C597 238 603 243 607 251 C612 261 612 274 608 284 C603 296 591 305 576 307.3 C570 308 564 307 559.7 305.5 L556.3 316.5 L539.9 287.4 L567.8 271.7 L564.7 282.7 C570 285.5 575 286 580 285 C588 283 594 278 598 271 C602 263 602 254 599.3 246 C597 241 593 237.5 588.4 235.1Z" fill="#4f8b35"/><path d="M630 269 L574.6 363 L630 458.6 Z" fill="#f2f2f2" stroke="#d2d2d2" stroke-width="1.2"/><rect x="629.7" y="259.4" width="474.3" height="211.6" rx="14" ry="14" fill="#fdfdfd" stroke="#505050" stroke-width="1.4" stroke-dasharray="4.8 3.3"/><path d="M674.5 271.6L680.8 288.7L698.2 283.0L688.7 298.7L704.0 308.6L685.9 311.0L687.6 329.2L674.5 316.5L661.4 329.2L663.1 311.0L645.0 308.6L660.3 298.7L650.8 283.0L668.2 288.7Z" fill="#f9a3a3" stroke="#b09090" stroke-width="0.8"/><text x="652.3" y="307.4" font-family="Liberation Sans, sans-serif" font-size="24" fill="#ff1010">H<tspan dy="5.6" font-size="16.5">2</tspan><tspan dy="-5.6">O</tspan><tspan dy="5.6" font-size="16.5">2</tspan></text><text x="656.6" y="373.8" font-family="Liberation Sans, sans-serif" font-size="23.5" fill="#ff1010">NIR</text><path d="M656.8 412.1 L689.4 412.1 L699.5 437.2 L673.1 454.8 L648 437.2Z" fill="#1a9b76"/><text x="646.2" y="438.8" font-family="Liberation Sans, sans-serif" font-size="23.5" fill="#111">Gene</text><text x="720.8" y="309.8" font-family="Liberation Sans, sans-serif" font-size="24" fill="#111">POD-like nanozyme activity</text><text x="867" y="375.8" font-family="Liberation Sans, sans-serif" font-size="24" fill="#111" text-anchor="middle">Photothermal property</text><text x="872.3" y="429" font-family="Liberation Sans, sans-serif" font-size="24" fill="#111" text-anchor="middle">Downregulation of QS-related</text><text x="873" y="458.6" font-family="Liberation Sans, sans-serif" font-size="24" fill="#111" text-anchor="middle">gene</text><path d="M1061.4 432.2 L1077.3 432.2 L1081.6 444.8 L1069.5 454.8 L1057.7 444.8Z" fill="#1a9b76"/><path d="M1025.4 276.1L1046.9 288.1L1051.1 277.7L1058.6 287.5L1070.3 269.6L1069.0 287.5L1081.3 283.6L1077.1 293.3L1090.4 294.6L1079.4 302.1L1091.8 310.9L1077.1 310.9L1080.7 325.8L1070.3 316.7L1066.1 330.1L1057.9 316.1L1051.1 336.9L1049.8 316.7L1040.1 324.2L1042.3 310.9L1025.1 315.1L1037.1 304.4L1025.8 296.2L1039.4 293.3Z" fill="#f84848" stroke="#ff0a0a" stroke-width="1.6" stroke-linejoin="miter"/><text x="1032.6" y="309.8" font-family="Liberation Sans, sans-serif" font-size="24" fill="#111">·OH</text><path d="M 1067.4 345.4 C 1069.6 351.2 1068.9 357.1 1068.2 362.0 C 1070.4 360.0 1071.9 359.0 1073.0 358.5 C 1072.6 362.0 1072.6 364.9 1073.4 367.8 C 1076.4 362.9 1075.6 355.1 1079.3 348.8 C 1080.1 354.2 1078.6 359.0 1079.0 362.9 C 1079.3 367.8 1080.8 369.8 1080.5 372.7 C 1082.3 370.7 1083.8 367.8 1084.6 364.9 C 1086.1 369.8 1087.2 373.6 1086.4 376.6 C 1085.3 382.4 1081.6 385.3 1079.3 387.3 C 1076.4 392.2 1071.1 394.6 1066.7 394.1 C 1060.7 393.6 1054.7 390.2 1053.2 383.4 C 1052.5 379.5 1052.9 376.6 1052.5 374.6 C 1050.2 371.7 1049.5 368.8 1050.6 364.9 C 1051.7 360.0 1055.5 357.1 1057.0 350.8 C 1058.5 356.1 1055.5 362.0 1056.2 367.8 C 1058.5 365.9 1059.9 362.9 1061.4 360.0 C 1064.4 356.1 1065.2 350.3 1067.4 345.4 Z" fill="url(#gFlame)"/><path d="M 1067.4 346.9 C 1069.3 352.2 1068.5 358.1 1067.8 363.4 C 1070.0 361.0 1071.9 360.0 1072.6 360.0 C 1072.3 362.9 1072.3 365.9 1073.0 369.3 C 1076.0 364.4 1075.6 356.6 1079.0 350.8 C 1079.3 355.1 1077.8 360.0 1078.2 363.9 C 1078.6 368.8 1080.1 370.7 1080.1 374.1 C 1082.0 372.2 1083.4 369.3 1084.2 366.8 C 1085.3 370.7 1085.7 373.6 1084.9 376.1 C 1083.8 380.5 1081.6 381.4 1079.3 382.4 C 1078.6 386.3 1074.9 390.2 1070.4 390.2 C 1065.9 390.2 1062.2 386.3 1061.4 380.5 C 1059.9 377.5 1058.5 375.6 1056.2 373.6 C 1052.5 370.7 1051.0 368.8 1051.7 365.4 C 1052.9 361.0 1055.8 358.1 1057.0 352.7 C 1057.7 357.1 1055.1 362.9 1056.2 369.3 C 1057.7 371.2 1059.2 372.2 1060.7 372.2 C 1061.4 367.8 1062.9 363.9 1063.7 360.5 C 1065.2 356.6 1065.9 351.7 1067.4 346.9 Z" fill="#ff3e4c"/><path d="M 1062.2 364.9 C 1060.7 369.8 1060.7 374.6 1062.9 379.5 C 1062.2 373.6 1063.7 368.8 1065.2 363.9 C 1064.4 364.9 1062.9 364.9 1062.2 364.9 Z M 1068.2 365.9 C 1067.4 370.7 1068.2 373.6 1069.6 375.6 C 1069.6 371.7 1070.4 368.8 1071.9 365.9 C 1070.4 366.8 1068.9 366.8 1068.2 365.9 Z" fill="#ff8a34" opacity="0.9"/><text x="10.9" y="33.8" font-family="Liberation Sans, sans-serif" font-size="29.5" fill="#111">(a)</text><text x="108.1" y="34" font-family="Liberation Sans, sans-serif" font-size="24" fill="#111">Metal-ligand coordination</text><text x="438" y="34" font-family="Liberation Serif, serif" font-size="24" fill="#111">Π-Π</text><text x="801" y="34" font-family="Liberation Sans, sans-serif" font-size="24" fill="#111" text-anchor="end">stacking and hydrogen bonds</text><text x="436" y="466.6" font-family="Liberation Sans, sans-serif" font-size="24" fill="#111">QF NCs</text><text x="64.9" y="513.9" font-family="Liberation Sans, sans-serif" font-size="24" fill="#111">Minimization of surface energy</text><text x="417.6" y="515.1" font-family="Liberation Sans, sans-serif" font-size="24" fill="#111">Formation of Spherical nanoparticle</text><rect x="151.3" y="573.6" width="340.3" height="161" rx="6" fill="url(#gKill)"/><rect x="637.8" y="570.5" width="280.4" height="160.6" rx="7" fill="url(#gInh)"/><text x="163.5" y="601.2" font-family="Liberation Sans, sans-serif" font-size="24" fill="#111">Kill bacteria in synergistic way</text><text x="658.9" y="598.8" font-family="Liberation Sans, sans-serif" font-size="24" fill="#111">Inhibit quorum sensing</text><text x="10.9" y="588.2" font-family="Liberation Sans, sans-serif" font-size="29.5" fill="#111">(b)</text><text x="296.2" y="911.2" font-family="Liberation Sans, sans-serif" font-size="24" fill="#111">QF NCs</text><text x="635.9" y="924.4" font-family="Liberation Sans, sans-serif" font-size="24" fill="#111">Prevent biofilm formation</text><path d="M281.5 734 L427.5 859" stroke="#303030" stroke-width="2.1" stroke-dasharray="6.8 4.2" stroke-dashoffset="5.5" fill="none"/><path d="M839.8 733 L686 872.8" stroke="#303030" stroke-width="2.1" stroke-dasharray="6.8 4.2" fill="none"/><path d="M237.6 660.5 C244 654 250 648 258 648.5 C268 649 272 660 282 657 C290 654 292 642 299.5 636 M237.6 662 C246 662 252 656 260 655 C268 654 274 650 280 646 C286 642 292 646 299.4 648.5 M238 664 C248 666 256 662 264 660 C274 658 278 648 286 645 C292 643 296 646 300 649 M238 660 C246 656 254 660 262 662 C272 664 278 656 284 650 C290 645 294 638 300 636.5" stroke="#b2d4a6" stroke-width="1.25" fill="none" opacity="0.95"/><path d="M183.4 668.0Q181.6 665.7 181.3 662.9M185.6 667.5Q185.8 663.8 184.6 658.5M188.0 667.0Q187.2 662.9 185.1 660.6M191.5 666.2Q189.1 662.1 189.2 659.0M193.7 665.7Q191.0 662.5 190.8 658.5M196.4 665.1Q195.4 661.0 194.4 659.3M198.7 664.7Q199.2 662.3 198.6 658.1M201.7 664.0Q201.9 661.7 200.0 658.9M204.1 663.5Q204.0 661.2 203.2 659.3M206.8 662.9Q205.6 657.9 206.6 655.3M209.7 662.3Q208.7 660.0 208.8 656.0M213.1 661.5Q213.0 657.6 210.8 655.2M215.9 660.9Q215.5 657.9 214.1 655.9M218.9 660.3Q216.9 657.1 216.5 654.0M221.1 659.8Q218.9 654.6 217.8 651.3M224.4 659.1Q222.5 656.8 222.4 654.6M227.0 658.5Q228.5 655.3 226.0 649.8M228.8 658.2Q229.3 654.6 229.2 653.1M232.1 658.7Q232.6 655.1 234.3 653.0M233.5 659.6Q236.0 656.3 236.8 655.0M235.7 663.3Q239.0 663.2 240.7 662.1M235.7 665.2Q237.8 666.2 240.1 665.7M235.0 667.5Q236.1 669.4 239.6 671.3M232.2 670.0Q232.9 672.2 237.1 676.5M229.3 670.8Q230.4 673.0 229.9 676.3M227.7 671.2Q227.7 676.7 229.1 680.2M224.8 671.8Q226.8 675.1 227.2 676.8M221.6 672.5Q222.5 676.7 225.4 680.8M218.3 673.2Q218.6 677.5 220.7 682.0M216.4 673.6Q219.2 678.4 219.5 682.1M213.1 674.3Q213.1 677.9 214.4 682.4M211.1 674.8Q211.9 679.6 214.3 682.3M208.6 675.3Q209.5 677.0 210.4 679.4M204.6 676.2Q203.5 679.3 204.6 684.9M203.3 676.4Q203.4 679.1 204.1 683.1M200.1 677.1Q201.5 681.6 201.1 684.5M196.9 677.8Q196.7 680.4 197.2 682.6M194.7 678.3Q195.1 681.4 197.4 685.8M192.3 678.8Q192.4 682.9 193.9 687.4M188.2 679.7Q190.2 683.1 190.4 686.1M185.5 680.3Q186.7 683.1 186.5 684.8M182.8 680.7Q182.2 682.4 183.1 685.0M180.1 679.9Q177.6 683.7 175.4 685.4M178.6 678.7Q177.1 679.3 174.1 682.0M177.1 676.1Q173.1 676.6 170.3 679.0M176.9 674.0Q174.3 673.0 171.4 673.4M177.5 671.6Q174.2 669.8 172.5 668.6M179.5 669.3Q175.5 664.8 174.9 662.4" stroke="#a8d29c" stroke-width="1.0" fill="none" opacity="0.85"/><g transform="rotate(-12.2 206.3 669.4)"><rect x="174.3" y="661.1" width="64" height="16.5" rx="8.25" fill="#b4dca8" opacity="0.7" filter="url(#blur2)"/><rect x="176.3" y="663.1" width="60" height="12.5" rx="6.25" fill="url(#gBact)" filter="url(#blur1)"/></g><path d="M264.4 666.7 L329 663.2 L327.5 660.1 L350 666.7 L327.5 673.3000000000001 L329 670.2Z" fill="url(#gBlueArr)"/><path d="M 314.7 616.0 C 316.5 620.8 315.9 625.6 315.3 629.5 C 317.2 627.9 318.4 627.1 319.3 626.7 C 319.0 629.5 319.0 631.9 319.6 634.3 C 322.1 630.3 321.5 624.0 324.6 618.8 C 325.2 623.2 324.0 627.1 324.3 630.3 C 324.6 634.3 325.8 635.9 325.5 638.3 C 327.1 636.7 328.3 634.3 328.9 631.9 C 330.2 635.9 331.1 639.1 330.5 641.5 C 329.6 646.2 326.5 648.6 324.6 650.2 C 322.1 654.2 317.8 656.2 314.1 655.8 C 309.1 655.4 304.1 652.6 302.9 647.0 C 302.3 643.9 302.6 641.5 302.3 639.9 C 300.4 637.5 299.8 635.1 300.7 631.9 C 301.7 627.9 304.8 625.6 306.0 620.4 C 307.2 624.8 304.8 629.5 305.4 634.3 C 307.2 632.7 308.5 630.3 309.7 627.9 C 312.2 624.8 312.8 620.0 314.7 616.0 Z" fill="url(#gFlame)"/><path d="M 314.7 617.2 C 316.2 621.6 315.6 626.3 315.0 630.7 C 316.9 628.7 318.4 627.9 319.0 627.9 C 318.7 630.3 318.7 632.7 319.3 635.5 C 321.8 631.5 321.5 625.2 324.3 620.4 C 324.6 624.0 323.4 627.9 323.7 631.1 C 324.0 635.1 325.2 636.7 325.2 639.5 C 326.8 637.9 328.0 635.5 328.6 633.5 C 329.6 636.7 329.9 639.1 329.2 641.1 C 328.3 644.7 326.5 645.5 324.6 646.2 C 324.0 649.4 320.9 652.6 317.2 652.6 C 313.4 652.6 310.3 649.4 309.7 644.7 C 308.5 642.3 307.2 640.7 305.4 639.1 C 302.3 636.7 301.0 635.1 301.7 632.3 C 302.6 628.7 305.1 626.3 306.0 622.0 C 306.6 625.6 304.4 630.3 305.4 635.5 C 306.6 637.1 307.9 637.9 309.1 637.9 C 309.7 634.3 311.0 631.1 311.6 628.3 C 312.8 625.2 313.4 621.2 314.7 617.2 Z" fill="#ff3e4c"/><path d="M 310.3 631.9 C 309.1 635.9 309.1 639.9 311.0 643.9 C 310.3 639.1 311.6 635.1 312.8 631.1 C 312.2 631.9 311.0 631.9 310.3 631.9 Z M 315.3 632.7 C 314.7 636.7 315.3 639.1 316.5 640.7 C 316.5 637.5 317.2 635.1 318.4 632.7 C 317.2 633.5 315.9 633.5 315.3 632.7 Z" fill="#ff8a34" opacity="0.9"/><path d="M282.9 678.6L300.4 688.4L303.8 679.9L309.9 687.9L319.4 673.3L318.4 687.9L328.4 684.7L325.0 692.6L335.9 693.7L326.9 699.8L336.9 707.0L325.0 707.0L327.9 719.1L319.4 711.7L316.0 722.6L309.4 711.2L303.8 728.2L302.7 711.7L294.8 717.8L296.6 707.0L282.6 710.4L292.4 701.7L283.1 695.0L294.3 692.6Z" fill="#f84848" stroke="#ff0a0a" stroke-width="1.5"/><text x="292.2" y="706" font-family="Liberation Sans, sans-serif" font-size="18" fill="#111">·OH</text><path d="M390.4 674.0Q388.1 669.5 388.9 666.2M393.0 673.1Q391.1 671.4 389.5 666.9M394.7 672.6Q393.1 670.1 391.2 665.3M397.8 671.6Q396.2 667.8 394.0 665.9M398.7 671.3Q397.9 665.9 394.9 662.0M402.0 670.2Q398.5 667.8 397.7 664.2M403.9 669.6Q401.0 665.0 397.5 661.8M405.9 668.9Q404.9 667.4 403.2 664.1M407.6 668.4Q408.5 663.3 407.3 660.8M409.8 667.7Q409.7 660.8 410.9 657.5M413.0 666.6Q413.8 663.9 413.4 659.6M414.2 666.2Q411.8 663.6 409.2 658.3M417.3 665.2Q415.5 662.9 414.2 660.4M418.9 664.8Q418.6 663.0 416.8 659.8M420.7 664.7Q421.0 662.4 423.4 657.2M423.0 665.4Q425.2 661.1 427.0 658.2M425.2 667.1Q428.5 663.9 431.0 661.4M426.3 669.1Q428.5 668.0 431.0 667.9M426.8 671.8Q430.3 672.1 436.1 671.9M426.6 673.1Q428.3 673.8 431.9 674.2M425.3 675.7Q426.4 678.1 428.7 679.2M423.2 677.4Q426.2 679.4 429.3 682.2M420.9 678.3Q422.0 681.2 420.8 683.8M418.9 678.9Q418.8 682.8 418.2 684.7M416.5 679.7Q417.3 681.3 416.8 685.3M415.1 680.1Q418.9 682.6 420.4 687.6M412.3 681.1Q413.8 682.8 414.0 686.3M410.8 681.5Q410.9 684.5 414.3 688.4M408.7 682.2Q410.6 685.5 410.3 692.3M405.7 683.2Q406.7 685.4 407.3 688.3M403.4 683.9Q405.2 686.2 405.3 691.7M401.1 684.7Q403.5 687.5 404.4 692.4M398.9 685.4Q401.4 688.6 402.3 692.7M397.8 685.8Q401.6 688.0 403.8 692.6M395.0 686.7Q396.6 690.8 397.4 696.9M393.6 687.1Q395.1 689.0 396.2 691.2M390.6 687.2Q390.4 693.1 391.9 697.1M389.1 686.7Q387.6 688.9 387.6 691.1M387.0 685.1Q383.0 688.3 380.6 690.2M385.6 682.9Q382.1 682.2 380.2 682.7M385.2 681.2Q381.9 679.5 377.0 679.1M385.5 678.7Q383.4 677.4 381.2 676.7M386.8 676.2Q385.6 672.0 383.5 669.7M388.9 674.5Q387.5 671.9 386.8 670.1" stroke="#a0a2a2" stroke-width="0.7" fill="none" opacity="0.75"/><path d="M442.6 661.0Q440.2 659.0 436.7 653.8M444.7 660.5Q444.4 657.9 443.9 654.7M447.7 659.8Q445.8 656.3 445.4 654.5M449.8 659.2Q448.1 656.3 449.4 649.9M451.8 658.8Q451.3 654.3 451.6 651.3M453.0 658.4Q450.9 656.7 449.3 653.6M455.9 657.7Q454.8 653.3 455.3 648.0M457.6 657.3Q455.9 653.5 455.6 648.2M460.4 656.7Q459.8 653.5 461.8 650.9M461.6 656.7Q464.4 651.8 465.8 648.6M464.4 657.5Q466.5 654.4 466.3 651.1M465.9 658.7Q470.2 658.4 474.1 655.8M467.2 660.4Q472.4 658.1 475.7 655.7M467.7 662.0Q469.9 662.9 473.6 661.4M467.8 663.9Q470.9 662.8 472.5 662.6M467.3 666.0Q470.2 666.1 472.2 665.9M465.7 668.3Q470.0 669.7 473.9 672.1M463.8 669.6Q462.8 676.1 464.3 679.1M461.6 670.2Q462.9 673.2 467.4 678.7M460.6 670.5Q461.2 676.4 460.2 680.2M457.8 671.2Q458.7 674.7 461.4 676.4M456.2 671.6Q455.8 674.4 458.2 677.8M454.0 672.1Q455.4 678.0 457.2 680.5M451.7 672.7Q450.5 677.6 453.0 682.3M449.7 673.2Q452.2 677.4 453.1 681.8M447.8 673.6Q451.6 676.1 453.5 681.7M446.0 674.1Q446.9 675.6 446.1 680.0M443.3 674.3Q440.9 678.0 440.4 681.3M441.4 673.8Q441.9 677.3 439.5 683.2M439.7 672.7Q435.6 676.9 434.0 679.5M438.4 671.3Q435.3 673.3 429.8 674.8M437.5 668.9Q434.9 668.6 430.7 671.0M437.5 666.1Q434.9 667.1 432.7 666.3M438.1 664.6Q435.0 662.1 433.3 659.5M439.4 662.8Q437.3 658.2 434.6 655.0M440.9 661.7Q440.8 659.4 439.8 656.2" stroke="#a0a2a2" stroke-width="0.7" fill="none" opacity="0.75"/><g transform="rotate(-18 406 676)"><rect x="382" y="666.7" width="48" height="18.6" rx="9.3" fill="#b0b4b4" opacity="0.6" filter="url(#blur2)"/><rect x="384.5" y="669.2" width="43" height="13.6" rx="6.8" fill="url(#gBactG)" filter="url(#blur1)"/></g><g transform="rotate(-14 452.6 665.5)"><rect x="434.6" y="656.2" width="36" height="18.6" rx="9.3" fill="#b0b4b4" opacity="0.6" filter="url(#blur2)"/><rect x="437.1" y="658.7" width="31" height="13.6" rx="6.8" fill="url(#gBactG)" filter="url(#blur1)"/></g><path d="M425 669 L431 667.5 L429 671 L437 669.5" stroke="#aaaaaa" stroke-width="3" fill="none" opacity="0.75" filter="url(#blur05)"/><path d="M722 631 C735 622 748 640 760 632 C772 624 784 638 800 630 C806 628 810 632 812 634 M722 633 C736 640 748 626 762 634 C774 640 782 628 802 634 M722 629 C734 624 744 622 754 630 C766 640 778 636 790 640 M788 672 C800 660 815 668 828 652 C838 646 842 650 850 646 M762 692 C778 690 790 676 804 672 C818 668 826 656 850 648 M762 695 C780 698 796 690 808 682 C818 676 828 680 834 684 M790 665 C804 672 816 660 830 664 C842 668 850 664 858 666 M764 690 C776 682 784 664 798 660 C812 656 824 650 848 644 M772 668 C786 676 800 664 812 672 C822 678 830 674 838 680 M756 696 C770 700 790 694 800 690 C812 684 820 690 830 686" stroke="#a2d498" stroke-width="1.3" fill="none" opacity="0.85"/><path d="M669.0 620.7Q669.9 616.6 670.3 614.4M672.2 621.0Q671.1 615.8 672.0 612.2M675.4 621.3Q674.0 616.1 674.9 612.8M677.6 621.5Q677.0 617.2 677.1 614.6M681.5 621.8Q682.7 616.7 680.7 613.9M683.3 622.0Q685.2 617.3 685.3 612.9M685.7 622.2Q684.6 618.1 685.1 614.8M688.2 622.4Q689.4 619.4 689.6 616.3M692.0 622.7Q692.1 619.3 691.6 616.2M695.0 623.0Q695.4 619.5 695.5 614.1M697.3 623.2Q698.5 621.2 698.2 618.0M700.5 623.5Q701.7 619.1 701.9 615.0M702.6 623.7Q702.0 620.8 702.0 616.3M706.1 624.0Q705.8 620.1 705.9 616.5M708.7 624.2Q710.4 620.4 709.8 618.0M711.6 624.5Q711.6 621.9 711.9 616.3M713.3 624.6Q713.8 622.4 712.9 617.6M716.9 625.0Q717.6 623.2 718.2 620.5M719.4 626.2Q722.2 623.4 724.9 621.2M721.4 629.1Q723.6 629.0 726.5 627.8M721.7 630.5Q724.7 628.7 730.8 628.9M721.2 633.6Q722.9 634.7 725.0 635.2M719.5 635.8Q722.0 638.7 723.6 639.5M716.8 637.2Q716.9 639.2 717.3 642.4M714.7 637.3Q714.2 641.2 712.9 645.3M711.2 637.0Q710.1 639.8 709.6 642.1M708.0 636.7Q707.0 641.0 707.4 645.1M706.3 636.5Q707.5 640.1 706.2 645.0M703.1 636.3Q702.4 637.8 702.8 641.7M699.8 636.0Q699.4 638.7 699.9 641.6M697.5 635.8Q696.4 640.7 696.3 643.1M694.0 635.5Q694.1 638.2 693.0 639.8M692.4 635.3Q690.3 637.7 691.1 643.7M688.2 635.0Q687.2 637.6 688.4 642.5M686.7 634.8Q685.3 640.1 686.5 643.0M682.9 634.5Q682.5 637.5 681.6 639.3M680.4 634.3Q680.7 637.6 678.5 642.9M677.5 634.0Q676.6 638.5 676.2 640.8M675.0 633.8Q674.3 636.5 675.2 639.3M673.0 633.6Q673.2 636.9 673.5 640.2M669.4 633.3Q671.2 637.6 670.6 641.9M666.6 633.0Q664.8 636.2 663.6 640.0M663.7 631.3Q662.3 631.9 660.2 634.2M662.4 629.5Q658.0 631.7 654.9 631.2M661.9 626.9Q657.3 626.8 655.3 625.7M662.6 624.0Q659.9 622.2 657.9 620.5M664.3 622.0Q661.2 618.9 658.4 616.3M666.8 620.8Q666.7 616.6 664.3 612.7" stroke="#a8d29c" stroke-width="1.0" fill="none" opacity="0.85"/><g transform="rotate(5 691.8 629)"><rect x="659.8" y="620.8" width="64" height="16.5" rx="8.25" fill="#b4dca8" opacity="0.7" filter="url(#blur2)"/><rect x="661.8" y="622.8" width="60" height="12.5" rx="6.25" fill="url(#gBact)" filter="url(#blur1)"/></g><path d="M840.6 640.4Q840.7 637.7 838.6 635.2M843.7 639.2Q842.0 636.9 841.0 633.9M846.0 638.2Q844.9 635.7 841.4 631.4M848.5 637.2Q846.5 635.1 846.5 633.3M851.6 635.9Q851.8 633.2 849.4 629.0M853.8 635.1Q853.2 631.6 851.4 628.1M856.5 634.0Q855.8 632.0 854.9 629.0M858.2 633.3Q857.6 631.8 855.3 629.1M861.6 631.9Q861.6 628.8 860.2 626.0M863.6 631.1Q862.0 628.5 861.3 625.9M866.8 629.8Q863.9 624.4 861.8 622.3M868.6 629.1Q868.3 624.5 865.7 621.2M871.0 628.1Q871.4 625.9 868.9 622.3M874.3 626.8Q872.7 623.3 870.9 621.5M876.4 625.9Q875.2 623.5 874.0 622.5M880.2 624.4Q878.8 621.6 879.3 619.9M882.5 623.5Q880.7 620.2 881.0 618.3M885.2 622.5Q885.3 617.1 885.1 614.7M887.7 622.6Q889.6 617.6 889.5 615.0M890.6 624.3Q891.5 621.9 894.8 617.6M892.0 626.4Q894.2 624.6 896.1 624.3M892.5 629.2Q895.5 629.1 899.1 628.4M892.0 631.2Q896.4 631.4 899.4 633.1M890.0 633.6Q892.4 637.4 894.8 639.4M887.1 635.1Q887.3 637.9 889.9 642.8M884.5 636.2Q885.0 640.5 886.3 643.8M881.9 637.2Q882.6 641.2 884.7 645.2M879.4 638.2Q880.9 641.9 881.2 644.0M876.9 639.2Q878.0 641.5 880.1 643.8M874.7 640.1Q874.5 645.8 876.4 648.3M871.7 641.3Q873.0 646.8 874.7 649.4M869.2 642.3Q869.0 645.1 870.7 649.9M867.0 643.2Q870.3 647.9 871.1 650.4M864.9 644.1Q865.5 646.8 867.0 651.1M862.2 645.1Q862.6 647.9 864.2 652.9M858.8 646.5Q861.5 651.2 862.7 653.7M856.1 647.6Q857.3 649.9 858.7 654.0M854.5 648.2Q855.1 650.9 856.0 653.1M851.6 649.4Q852.7 654.1 855.2 655.3M849.1 650.5Q850.1 651.9 850.6 654.9M846.1 651.6Q845.8 653.8 848.3 657.2M842.9 652.7Q843.3 656.2 843.9 661.3M840.4 652.5Q839.9 655.8 837.5 658.1M837.8 650.9Q835.4 652.8 834.8 655.5M837.0 649.9Q835.7 650.8 833.2 652.2M836.0 645.9Q831.7 645.8 827.1 646.8M836.3 644.5Q832.2 643.9 827.3 642.6M838.8 641.3Q836.0 637.2 834.3 635.0" stroke="#a8d29c" stroke-width="1.0" fill="none" opacity="0.85"/><g transform="rotate(-22 864.2 637.6)"><rect x="832.2" y="629.4" width="64" height="16.5" rx="8.25" fill="#b4dca8" opacity="0.7" filter="url(#blur2)"/><rect x="834.2" y="631.4" width="60" height="12.5" rx="6.25" fill="url(#gBact)" filter="url(#blur1)"/></g><path d="M710.6 700.7Q707.1 695.7 707.5 691.9M712.3 700.3Q713.0 694.1 712.0 691.5M715.7 699.6Q716.4 694.0 714.6 691.8M717.4 699.2Q717.8 694.4 717.3 691.1M720.9 698.5Q718.6 694.1 717.8 691.0M722.9 698.1Q720.8 694.2 720.5 691.8M726.5 697.3Q725.6 694.6 726.0 693.1M729.6 696.6Q730.5 694.6 729.6 691.3M731.1 696.3Q731.1 694.0 728.6 690.3M734.6 695.6Q734.5 692.2 732.8 689.3M737.4 695.0Q735.8 693.3 735.8 690.4M740.0 694.4Q739.4 691.9 739.8 689.6M742.1 694.0Q741.4 690.6 741.7 688.5M745.3 693.3Q744.6 691.7 745.2 687.5M747.4 692.9Q745.8 688.6 746.2 684.1M750.5 692.2Q749.5 690.7 748.6 687.0M754.4 691.4Q752.2 688.8 751.0 683.1M755.6 691.1Q755.7 685.5 753.4 683.5M759.5 691.7Q759.4 689.9 761.3 686.0M761.4 693.1Q763.9 690.6 765.0 689.5M762.7 695.6Q765.6 694.9 767.2 693.6M763.0 697.7Q765.4 697.4 767.5 697.2M762.1 700.5Q764.8 702.5 766.4 703.4M759.7 702.7Q761.8 704.4 763.1 706.7M756.8 703.6Q756.8 706.5 757.2 708.0M753.9 704.3Q756.3 707.0 756.7 710.4M751.1 704.8Q752.7 707.0 753.0 710.0M749.6 705.2Q748.9 708.5 750.6 711.2M746.4 705.9Q748.4 709.8 748.9 712.2M742.9 706.6Q743.1 710.1 743.6 712.4M741.5 706.9Q741.5 711.3 741.6 715.6M738.0 707.6Q740.5 709.8 740.9 714.0M735.8 708.1Q737.0 709.3 737.3 712.5M733.2 708.6Q733.2 712.9 735.9 716.0M729.7 709.4Q729.3 714.0 730.5 716.2M726.8 710.0Q727.6 712.1 728.4 714.1M724.7 710.5Q724.7 713.1 725.9 715.1M721.0 711.2Q721.8 712.9 721.9 716.1M718.4 711.8Q719.5 717.4 720.7 720.6M716.1 712.3Q716.7 714.8 716.2 718.5M713.9 712.8Q715.8 716.1 715.2 718.5M710.0 713.4Q707.7 717.9 708.3 721.6M707.3 712.6Q705.4 717.3 703.8 721.0M705.8 711.5Q703.7 714.4 701.9 717.2M704.6 709.7Q702.9 710.9 699.8 710.7M704.1 706.0Q701.1 702.7 696.3 703.0M705.3 703.4Q702.7 701.8 701.1 699.8M707.8 701.4Q706.0 698.0 704.1 695.0" stroke="#a8d29c" stroke-width="1.0" fill="none" opacity="0.85"/><g transform="rotate(-12 733.5 702.2)"><rect x="701.5" y="694.0" width="64" height="16.5" rx="8.25" fill="#b4dca8" opacity="0.7" filter="url(#blur2)"/><rect x="703.5" y="696.0" width="60" height="12.5" rx="6.25" fill="url(#gBact)" filter="url(#blur1)"/></g><g transform="rotate(180 759 633.5)"><path d="M762.1 630.7A4.2 4.2 0 0 1 762.1 636.3M764.1 628.9A6.8 6.8 0 0 1 764.1 638.1M766.0 627.2A9.4 9.4 0 0 1 766.0 639.8M767.9 625.5A12.0 12.0 0 0 1 767.9 641.5" stroke="#333" stroke-width="1.7" fill="none"/><circle cx="759" cy="633.5" r="1.2" fill="#333"/></g><path d="M749.5 628.5L759.5 638.5M759.5 628.5L749.5 638.5" stroke="#e01818" stroke-width="2.2" stroke-linecap="round" fill="none"/><g transform="rotate(180 797 636)"><path d="M800.1 633.2A4.2 4.2 0 0 1 800.1 638.8M802.1 631.4A6.8 6.8 0 0 1 802.1 640.6M804.0 629.7A9.4 9.4 0 0 1 804.0 642.3M805.9 628.0A12.0 12.0 0 0 1 805.9 644.0" stroke="#333" stroke-width="1.7" fill="none"/><circle cx="797" cy="636" r="1.2" fill="#333"/></g><g transform="rotate(45 717 654)"><path d="M720.1 651.2A4.2 4.2 0 0 1 720.1 656.8M722.1 649.4A6.8 6.8 0 0 1 722.1 658.6M724.0 647.7A9.4 9.4 0 0 1 724.0 660.3M725.9 646.0A12.0 12.0 0 0 1 725.9 662.0" stroke="#333" stroke-width="1.7" fill="none"/><circle cx="717" cy="654" r="1.2" fill="#333"/></g><g transform="rotate(50 727 669)"><path d="M730.1 666.2A4.2 4.2 0 0 1 730.1 671.8M732.1 664.4A6.8 6.8 0 0 1 732.1 673.6M734.0 662.7A9.4 9.4 0 0 1 734.0 675.3M735.9 661.0A12.0 12.0 0 0 1 735.9 677.0" stroke="#333" stroke-width="1.7" fill="none"/><circle cx="727" cy="669" r="1.2" fill="#333"/></g><path d="M728 669.5L738 679.5M738 669.5L728 679.5" stroke="#e01818" stroke-width="2.2" stroke-linecap="round" fill="none"/><g transform="rotate(-140 789 685)"><path d="M792.1 682.2A4.2 4.2 0 0 1 792.1 687.8M794.1 680.4A6.8 6.8 0 0 1 794.1 689.6M796.0 678.7A9.4 9.4 0 0 1 796.0 691.3M797.9 677.0A12.0 12.0 0 0 1 797.9 693.0" stroke="#333" stroke-width="1.7" fill="none"/><circle cx="789" cy="685" r="1.2" fill="#333"/></g><path d="M778.7 674.5L788.7 684.5M788.7 674.5L778.7 684.5" stroke="#e01818" stroke-width="2.2" stroke-linecap="round" fill="none"/><g transform="rotate(-35 806 668)"><path d="M809.1 665.2A4.2 4.2 0 0 1 809.1 670.8M811.1 663.4A6.8 6.8 0 0 1 811.1 672.6M813.0 661.7A9.4 9.4 0 0 1 813.0 674.3M814.9 660.0A12.0 12.0 0 0 1 814.9 676.0" stroke="#333" stroke-width="1.7" fill="none"/><circle cx="806" cy="668" r="1.2" fill="#333"/></g><path d="M805.5 657.5L815.5 667.5M815.5 657.5L805.5 667.5" stroke="#e01818" stroke-width="2.2" stroke-linecap="round" fill="none"/><path d="M99.8 930.8 L279.3 869.7 L279.3 871.6 L99.8 933.4Z" fill="#8ad8ec"/><path d="M19 855.4 L99.8 930.8 L99.8 934.2 L19 858.6Z" fill="#2a86c0"/><path d="M19 855.4 L178.8 813.3 L279.3 869.7 L99.8 930.8Z" fill="#6bcfe6"/><path d="M60 868 C80 860 100 872 125 850 C140 856 150 880 165 892 C185 880 200 870 228 868 M93 885 C110 880 130 870 147 867 C160 860 180 850 194 858 M110 907 C130 900 150 900 164 894 C180 880 200 880 228 869" stroke="#a5dc8a" stroke-width="0.6" fill="none" opacity="0.6"/><g transform="rotate(-13 67.5 863.6)"><rect x="49.75" y="858.0" width="35.5" height="11.2" rx="5.6" fill="#c2e48e" opacity="0.85" filter="url(#blur1)"/><rect x="51.75" y="860.0" width="31.5" height="7.2" rx="3.6" fill="#86bc5a"/><rect x="53.25" y="861.6" width="28.5" height="4.0" rx="2.0" fill="#5e9e44" opacity="0.9" filter="url(#blur05)"/></g><g transform="rotate(-15 123.1 846.7)"><rect x="105.35" y="841.1" width="35.5" height="11.2" rx="5.6" fill="#c2e48e" opacity="0.85" filter="url(#blur1)"/><rect x="107.35" y="843.1" width="31.5" height="7.2" rx="3.6" fill="#86bc5a"/><rect x="108.85" y="844.7" width="28.5" height="4.0" rx="2.0" fill="#5e9e44" opacity="0.9" filter="url(#blur05)"/></g><g transform="rotate(22 171.6 834.9)"><rect x="153.85" y="829.3" width="35.5" height="11.2" rx="5.6" fill="#c2e48e" opacity="0.85" filter="url(#blur1)"/><rect x="155.85" y="831.3" width="31.5" height="7.2" rx="3.6" fill="#86bc5a"/><rect x="157.35" y="832.9" width="28.5" height="4.0" rx="2.0" fill="#5e9e44" opacity="0.9" filter="url(#blur05)"/></g><g transform="rotate(-52 93.3 885.2)"><rect x="75.55" y="879.6" width="35.5" height="11.2" rx="5.6" fill="#c2e48e" opacity="0.85" filter="url(#blur1)"/><rect x="77.55" y="881.6" width="31.5" height="7.2" rx="3.6" fill="#86bc5a"/><rect x="79.05" y="883.2" width="28.5" height="4.0" rx="2.0" fill="#5e9e44" opacity="0.9" filter="url(#blur05)"/></g><g transform="rotate(-11 147.2 867.2)"><rect x="129.45" y="861.6" width="35.5" height="11.2" rx="5.6" fill="#c2e48e" opacity="0.85" filter="url(#blur1)"/><rect x="131.45" y="863.6" width="31.5" height="7.2" rx="3.6" fill="#86bc5a"/><rect x="132.95" y="865.2" width="28.5" height="4.0" rx="2.0" fill="#5e9e44" opacity="0.9" filter="url(#blur05)"/></g><g transform="rotate(-57 193.8 858.9)"><rect x="176.05" y="853.3" width="35.5" height="11.2" rx="5.6" fill="#c2e48e" opacity="0.85" filter="url(#blur1)"/><rect x="178.05" y="855.3" width="31.5" height="7.2" rx="3.6" fill="#86bc5a"/><rect x="179.55" y="856.9" width="28.5" height="4.0" rx="2.0" fill="#5e9e44" opacity="0.9" filter="url(#blur05)"/></g><g transform="rotate(1 228.3 869)"><rect x="210.55" y="863.4" width="35.5" height="11.2" rx="5.6" fill="#c2e48e" opacity="0.85" filter="url(#blur1)"/><rect x="212.55" y="865.4" width="31.5" height="7.2" rx="3.6" fill="#86bc5a"/><rect x="214.05" y="867.0" width="28.5" height="4.0" rx="2.0" fill="#5e9e44" opacity="0.9" filter="url(#blur05)"/></g><g transform="rotate(-13 164.4 894.1)"><rect x="146.65" y="888.5" width="35.5" height="11.2" rx="5.6" fill="#c2e48e" opacity="0.85" filter="url(#blur1)"/><rect x="148.65" y="890.5" width="31.5" height="7.2" rx="3.6" fill="#86bc5a"/><rect x="150.15" y="892.1" width="28.5" height="4.0" rx="2.0" fill="#5e9e44" opacity="0.9" filter="url(#blur05)"/></g><g transform="rotate(-13 110.5 907.4)"><rect x="92.75" y="901.8" width="35.5" height="11.2" rx="5.6" fill="#c2e48e" opacity="0.85" filter="url(#blur1)"/><rect x="94.75" y="903.8" width="31.5" height="7.2" rx="3.6" fill="#86bc5a"/><rect x="96.25" y="905.4" width="28.5" height="4.0" rx="2.0" fill="#5e9e44" opacity="0.9" filter="url(#blur05)"/></g><circle cx="339.8" cy="846.7" r="15" fill="url(#gNCs)" stroke="#6a5226" stroke-width="1.2"/><circle cx="339.8" cy="846.7" r="13" fill="#fff" filter="url(#fNCs)" opacity="0.45"/><path d="M302.6 871.9 L361.2 868.4 L359.7 862.6999999999999 L385.2 871.9 L359.7 881.1 L361.2 875.4Z" fill="url(#gBlueArr)"/><path d="M573 776 L606 781 L694 874 L512 946 L410 856Z" fill="#ffa4a4" opacity="0.5" filter="url(#blur6)"/><g filter="url(#blur2)"><path d="M571 773 L605.5 779.5 L687 874 L509 937 L427 859.5Z" fill="url(#gBeam)"/><path d="M571 773 L605.5 779.5 L687 874 L509 937 L427 859.5Z" fill="url(#gBeamL)"/><path d="M571 773 L605.5 779.5 L687 874 L509 937 L427 859.5Z" fill="url(#gBeamR)"/></g><path d="M508.5 937.7 L686.2 874 L686.2 875.8 L508.5 940.2Z" fill="#8ad0e8"/><path d="M427 859.2 L508.5 937.7 L508.5 941.2 L427 862.6Z" fill="#2a80bc"/><path d="M427 859.2 L582.5 819.2 L686.2 874 L508.5 937.7Z" fill="url(#gPlate2)"/><path d="M427 859.2 L582.5 819.2 L686.2 874 L508.5 937.7Z" fill="url(#gPlate2R)"/><g filter="url(#blur05)"><path d="M587.8 737.7 L609 742.1 L602.7 763 L581.1 758.9Z" fill="url(#gLaserT)"/><path d="M574.8 758.2 L608.4 765.3 L603.9 778.8 L570.4 771.8Z" fill="url(#gLaser)"/></g><ellipse cx="562" cy="875" rx="57" ry="36" fill="none" stroke="#4aa860" stroke-width="0.9" opacity="0.8" transform="rotate(-12 562 875)"/><g transform="rotate(-20 465.5 864.3)"><rect x="451.7" y="859.0" width="27.6" height="10.6" rx="5.3" fill="#e8b8b8" opacity="0.8" filter="url(#blur1)"/><rect x="453.5" y="860.8" width="24" height="7" rx="3.5" fill="#d26a72" filter="url(#blur05)"/></g><g transform="rotate(-20 498.1 851.8)"><rect x="485.8" y="846.5" width="24.6" height="10.6" rx="5.3" fill="#e8b8b8" opacity="0.8" filter="url(#blur1)"/><rect x="487.6" y="848.3" width="21" height="7" rx="3.5" fill="#d26a72" filter="url(#blur05)"/></g><g transform="rotate(-60 512.9 872.5)"><rect x="502.1" y="867.2" width="21.6" height="10.6" rx="5.3" fill="#e8b8b8" opacity="0.8" filter="url(#blur1)"/><rect x="503.9" y="869.0" width="18" height="7" rx="3.5" fill="#d26a72" filter="url(#blur05)"/></g><g transform="rotate(-55 503.4 894.2)"><rect x="489.6" y="888.9" width="27.6" height="10.6" rx="5.3" fill="#e8b8b8" opacity="0.8" filter="url(#blur1)"/><rect x="491.4" y="890.7" width="24" height="7" rx="3.5" fill="#d26a72" filter="url(#blur05)"/></g><g transform="rotate(-20 550.0 868.1)"><rect x="534.7" y="862.8" width="30.6" height="10.6" rx="5.3" fill="#e8b8b8" opacity="0.8" filter="url(#blur1)"/><rect x="536.5" y="864.6" width="27" height="7" rx="3.5" fill="#d26a72" filter="url(#blur05)"/></g><g transform="rotate(-15 569.2 860.7)"><rect x="556.9" y="855.4" width="24.6" height="10.6" rx="5.3" fill="#e8b8b8" opacity="0.8" filter="url(#blur1)"/><rect x="558.7" y="857.2" width="21" height="7" rx="3.5" fill="#d26a72" filter="url(#blur05)"/></g><g transform="rotate(-50 579.6 841.4)"><rect x="568.8" y="836.1" width="21.6" height="10.6" rx="5.3" fill="#e8b8b8" opacity="0.8" filter="url(#blur1)"/><rect x="570.6" y="837.9" width="18" height="7" rx="3.5" fill="#d26a72" filter="url(#blur05)"/></g><g transform="rotate(-15 606.2 847.4)"><rect x="592.4" y="842.1" width="27.6" height="10.6" rx="5.3" fill="#e8b8b8" opacity="0.8" filter="url(#blur1)"/><rect x="594.2" y="843.9" width="24" height="7" rx="3.5" fill="#d26a72" filter="url(#blur05)"/></g><g transform="rotate(-60 581.1 875.5)"><rect x="568.8" y="870.2" width="24.6" height="10.6" rx="5.3" fill="#e8b8b8" opacity="0.8" filter="url(#blur1)"/><rect x="570.6" y="872.0" width="21" height="7" rx="3.5" fill="#d26a72" filter="url(#blur05)"/></g><g transform="rotate(-50 566.2 894.8)"><rect x="555.4" y="889.5" width="21.6" height="10.6" rx="5.3" fill="#e8b8b8" opacity="0.8" filter="url(#blur1)"/><rect x="557.2" y="891.3" width="18" height="7" rx="3.5" fill="#d26a72" filter="url(#blur05)"/></g><g transform="rotate(-10 547.0 842.9)"><rect x="529.2" y="837.9" width="35.6" height="10.1" rx="5.05" fill="#f0c070" opacity="0.8" filter="url(#blur1)"/><rect x="531.0" y="839.7" width="32" height="6.5" rx="3.25" fill="#e09a50" filter="url(#blur05)"/></g><g transform="rotate(-10 547.0 842.9)"><rect x="530.4" y="839.1" width="33.2" height="7.6" rx="3.8" fill="none" stroke="#f4c020" stroke-width="0.9" stroke-dasharray="1 1"/></g><g transform="rotate(0 627.0 869.6)"><rect x="608.7" y="864.5" width="36.6" height="10.1" rx="5.05" fill="#e6d890" opacity="0.8" filter="url(#blur1)"/><rect x="610.5" y="866.3" width="33" height="6.5" rx="3.25" fill="#b8b060" filter="url(#blur05)"/></g><g transform="rotate(0 627.0 869.6)"><rect x="609.9" y="865.8" width="34.2" height="7.6" rx="3.8" fill="none" stroke="#e05030" stroke-width="0.9" stroke-dasharray="1 1"/></g><g transform="rotate(-12 523.3 911.1)"><rect x="505.0" y="906.0" width="36.6" height="10.1" rx="5.05" fill="#dde890" opacity="0.8" filter="url(#blur1)"/><rect x="506.8" y="907.8" width="33" height="6.5" rx="3.25" fill="#a8c068" filter="url(#blur05)"/></g><g transform="rotate(-12 523.3 911.1)"><rect x="506.2" y="907.3" width="34.2" height="7.6" rx="3.8" fill="none" stroke="#d89030" stroke-width="0.9" stroke-dasharray="1 1"/></g><circle cx="481.2" cy="874.0" r="2.6" fill="#b44040" opacity="0.85"/><circle cx="534.3" cy="856.8" r="2.6" fill="#b44040" opacity="0.85"/><circle cx="523.3" cy="889.7" r="2.6" fill="#b44040" opacity="0.85"/><circle cx="559.4" cy="877.9" r="2.6" fill="#b44040" opacity="0.85"/><circle cx="595.0" cy="883.5" r="2.6" fill="#b44040" opacity="0.85"/><circle cx="614.5" cy="855.7" r="2.6" fill="#b44040" opacity="0.85"/><circle cx="574.2" cy="828.1" r="2.6" fill="#b44040" opacity="0.85"/><path d="M508.9075829383886 856.0876777251185L519.9075829383886 867.0876777251185M519.9075829383886 856.0876777251185L508.9075829383886 867.0876777251185" stroke="#e81010" stroke-width="2.4" stroke-linecap="round" fill="none"/><path d="M591.2535545023696 829.4289099526067L602.2535545023696 840.4289099526067M602.2535545023696 829.4289099526067L591.2535545023696 840.4289099526067" stroke="#e81010" stroke-width="2.4" stroke-linecap="round" fill="none"/><path d="M589.4763033175356 891.3364928909953L600.4763033175356 902.3364928909953M600.4763033175356 891.3364928909953L589.4763033175356 902.3364928909953" stroke="#e81010" stroke-width="2.4" stroke-linecap="round" fill="none"/><path d="M735 871.8 L796.0 867.8 L794.5 862.4 L818.5 871.8 L794.5 881.1999999999999 L796.0 875.8Z" fill="url(#gBlueArr)"/><g transform="rotate(45 778 870.5)"><path d="M774 858.5h8v8h8v8h-8v8h-8v-8h-8v-8h8z" fill="#c80808" stroke="#5a0a0a" stroke-width="1.1"/></g><path d="M930 929 L1101 868.5 L1101 870 L930 931Z" fill="#7fd6ea"/><path d="M851 855.5 L930 929 L930 931 L851 857.2Z" fill="#55bfe0"/><path d="M851 855.5 L1006 815 L1101 868.5 L930 929Z" fill="#6bcfe6"/><path d="M976 721 C1016 721 1040 746 1039 780 C1038 800 1034 810 1037 822 C1044 838 1062 850 1060 868 C1054 890 1024 886 1004 892 C985 898 966 900 950 896 C934 894 918 888 906 882 C888 874 886 856 896 846 C908 834 915 824 913 810 C908 796 910 786 911 772 C914 744 940 721 976 721Z" fill="#eceeec" opacity="0.6" stroke="#dcdedc" stroke-width="0.8"/><path d="M896 846 C884 856 888 880 912 888 C940 900 975 902 1000 894 C1030 888 1062 890 1062 866 C1058 848 1040 838 1030 836Z" fill="#74b8c4" opacity="0.7"/><path d="M896 846 C884 856 888 880 912 888 C940 900 975 902 1000 894 C1030 888 1062 890 1062 866 C1058 848 1040 838 1030 836Z" fill="#fff" filter="url(#fWater)" opacity="0.5"/><g><path d="M976.5 732 C1006 732 1032 752 1032 779 C1032 796 1024 804 1024 815 C1024 830 1038 838 1044 850 C1048 862 1038 870 1026 872 C1018 880 1006 884 996 878 C988 888 972 892 958 891 C946 890 938 884 930 878 C916 874 905 862 906 848 C908 838 924 832 926 815 C926 804 921.5 796 921.5 779 C921.5 752 946 732 976.5 732Z" fill="url(#gBio)" filter="url(#blur1)"/><g clip-path="url(#cBio)" filter="url(#blur05)"><circle cx="974.3" cy="738.3" r="4.9" fill="url(#gCell)"/><circle cx="981.1" cy="739.0" r="5.1" fill="url(#gCell)"/><circle cx="961.0" cy="740.5" r="5.5" fill="url(#gCell)"/><circle cx="992.7" cy="742.8" r="4.7" fill="url(#gCell)"/><circle cx="1003.2" cy="743.3" r="5.7" fill="url(#gCell)"/><circle cx="951.6" cy="743.8" r="4.9" fill="url(#gCell)"/><circle cx="978.1" cy="747.9" r="5.3" fill="url(#gCell)"/><circle cx="987.8" cy="749.5" r="6.2" fill="url(#gCell)"/><circle cx="944.1" cy="749.5" r="4.7" fill="url(#gCell)"/><circle cx="965.3" cy="750.4" r="4.7" fill="url(#gCell)"/><circle cx="1008.1" cy="752.5" r="5.3" fill="url(#gCell)"/><circle cx="954.6" cy="752.7" r="4.9" fill="url(#gCell)"/><circle cx="998.1" cy="752.8" r="5.8" fill="url(#gCell)"/><circle cx="969.7" cy="757.0" r="4.6" fill="url(#gCell)"/><circle cx="981.5" cy="758.7" r="5.9" fill="url(#gCell)"/><circle cx="1013.7" cy="759.8" r="6.0" fill="url(#gCell)"/><circle cx="936.6" cy="760.3" r="5.9" fill="url(#gCell)"/><circle cx="961.2" cy="760.5" r="5.3" fill="url(#gCell)"/><circle cx="1005.8" cy="762.7" r="5.1" fill="url(#gCell)"/><circle cx="992.1" cy="763.5" r="5.7" fill="url(#gCell)"/><circle cx="951.6" cy="763.7" r="5.4" fill="url(#gCell)"/><circle cx="928.4" cy="764.6" r="5.3" fill="url(#gCell)"/><circle cx="979.3" cy="767.8" r="5.1" fill="url(#gCell)"/><circle cx="987.2" cy="767.9" r="5.3" fill="url(#gCell)"/><circle cx="944.8" cy="768.9" r="5.7" fill="url(#gCell)"/><circle cx="1022.0" cy="770.4" r="5.9" fill="url(#gCell)"/><circle cx="966.9" cy="771.5" r="6.0" fill="url(#gCell)"/><circle cx="1010.1" cy="772.1" r="4.9" fill="url(#gCell)"/><circle cx="999.7" cy="773.3" r="5.1" fill="url(#gCell)"/><circle cx="953.6" cy="773.5" r="5.3" fill="url(#gCell)"/><circle cx="930.3" cy="774.3" r="5.5" fill="url(#gCell)"/><circle cx="983.8" cy="776.5" r="5.2" fill="url(#gCell)"/><circle cx="974.0" cy="777.1" r="4.9" fill="url(#gCell)"/><circle cx="941.1" cy="778.7" r="4.7" fill="url(#gCell)"/><circle cx="1027.2" cy="779.0" r="5.1" fill="url(#gCell)"/><circle cx="1014.7" cy="779.0" r="5.3" fill="url(#gCell)"/><circle cx="959.1" cy="781.0" r="6.2" fill="url(#gCell)"/><circle cx="1006.0" cy="782.2" r="6.1" fill="url(#gCell)"/><circle cx="995.4" cy="782.5" r="6.0" fill="url(#gCell)"/><circle cx="956.4" cy="784.2" r="6.2" fill="url(#gCell)"/><circle cx="933.1" cy="784.3" r="6.1" fill="url(#gCell)"/><circle cx="986.8" cy="785.8" r="5.6" fill="url(#gCell)"/><circle cx="976.5" cy="787.7" r="5.9" fill="url(#gCell)"/><circle cx="1023.0" cy="787.8" r="4.7" fill="url(#gCell)"/><circle cx="944.7" cy="789.1" r="5.7" fill="url(#gCell)"/><circle cx="924.4" cy="789.8" r="5.6" fill="url(#gCell)"/><circle cx="967.8" cy="789.9" r="5.1" fill="url(#gCell)"/><circle cx="1012.2" cy="791.3" r="5.5" fill="url(#gCell)"/><circle cx="1000.3" cy="791.9" r="6.1" fill="url(#gCell)"/><circle cx="929.9" cy="794.7" r="5.4" fill="url(#gCell)"/><circle cx="952.5" cy="794.7" r="5.6" fill="url(#gCell)"/><circle cx="981.0" cy="796.1" r="5.1" fill="url(#gCell)"/><circle cx="1018.1" cy="796.8" r="5.1" fill="url(#gCell)"/><circle cx="1026.6" cy="797.5" r="6.0" fill="url(#gCell)"/><circle cx="974.3" cy="797.7" r="4.6" fill="url(#gCell)"/><circle cx="959.0" cy="798.7" r="4.9" fill="url(#gCell)"/><circle cx="939.1" cy="800.1" r="5.7" fill="url(#gCell)"/><circle cx="1005.6" cy="800.7" r="5.3" fill="url(#gCell)"/><circle cx="998.6" cy="801.9" r="4.7" fill="url(#gCell)"/><circle cx="932.9" cy="804.7" r="5.7" fill="url(#gCell)"/><circle cx="990.2" cy="805.2" r="5.2" fill="url(#gCell)"/><circle cx="955.1" cy="805.5" r="5.5" fill="url(#gCell)"/><circle cx="1019.4" cy="807.2" r="5.3" fill="url(#gCell)"/><circle cx="979.7" cy="807.4" r="5.4" fill="url(#gCell)"/><circle cx="966.6" cy="807.6" r="5.5" fill="url(#gCell)"/><circle cx="1008.6" cy="809.7" r="5.2" fill="url(#gCell)"/><circle cx="945.4" cy="809.9" r="4.8" fill="url(#gCell)"/><circle cx="991.9" cy="811.3" r="4.9" fill="url(#gCell)"/><circle cx="982.7" cy="814.1" r="6.0" fill="url(#gCell)"/><circle cx="948.9" cy="814.4" r="5.5" fill="url(#gCell)"/><circle cx="927.8" cy="814.4" r="4.8" fill="url(#gCell)"/><circle cx="971.4" cy="816.5" r="6.0" fill="url(#gCell)"/><circle cx="1015.5" cy="817.5" r="5.0" fill="url(#gCell)"/><circle cx="961.6" cy="818.2" r="4.8" fill="url(#gCell)"/><circle cx="943.8" cy="819.4" r="5.4" fill="url(#gCell)"/><circle cx="1001.3" cy="820.3" r="5.0" fill="url(#gCell)"/><circle cx="1011.7" cy="820.5" r="5.4" fill="url(#gCell)"/><circle cx="955.5" cy="824.1" r="5.5" fill="url(#gCell)"/><circle cx="990.0" cy="824.7" r="5.0" fill="url(#gCell)"/><circle cx="932.5" cy="824.7" r="5.5" fill="url(#gCell)"/><circle cx="976.1" cy="826.8" r="4.8" fill="url(#gCell)"/><circle cx="958.8" cy="828.7" r="5.4" fill="url(#gCell)"/><circle cx="938.3" cy="829.4" r="5.5" fill="url(#gCell)"/><circle cx="994.8" cy="829.6" r="4.7" fill="url(#gCell)"/><circle cx="1002.7" cy="830.7" r="5.3" fill="url(#gCell)"/><circle cx="948.4" cy="833.1" r="4.7" fill="url(#gCell)"/><circle cx="982.3" cy="833.6" r="5.3" fill="url(#gCell)"/><circle cx="928.3" cy="834.2" r="6.0" fill="url(#gCell)"/><circle cx="1027.1" cy="834.6" r="5.5" fill="url(#gCell)"/><circle cx="973.9" cy="836.1" r="5.7" fill="url(#gCell)"/><circle cx="1019.4" cy="837.0" r="5.8" fill="url(#gCell)"/><circle cx="967.9" cy="837.2" r="4.8" fill="url(#gCell)"/><circle cx="999.8" cy="838.4" r="6.2" fill="url(#gCell)"/><circle cx="920.8" cy="838.6" r="5.8" fill="url(#gCell)"/><circle cx="1008.8" cy="839.3" r="4.8" fill="url(#gCell)"/><circle cx="945.4" cy="840.2" r="5.9" fill="url(#gCell)"/><circle cx="956.0" cy="843.2" r="5.2" fill="url(#gCell)"/><circle cx="932.6" cy="843.6" r="4.9" fill="url(#gCell)"/><circle cx="987.9" cy="843.9" r="6.1" fill="url(#gCell)"/><circle cx="1034.7" cy="844.2" r="5.5" fill="url(#gCell)"/><circle cx="979.0" cy="845.8" r="5.8" fill="url(#gCell)"/><circle cx="962.1" cy="846.5" r="4.8" fill="url(#gCell)"/><circle cx="994.0" cy="847.8" r="5.8" fill="url(#gCell)"/><circle cx="1015.6" cy="847.9" r="4.7" fill="url(#gCell)"/><circle cx="916.3" cy="847.9" r="5.0" fill="url(#gCell)"/><circle cx="1004.0" cy="848.3" r="5.2" fill="url(#gCell)"/><circle cx="937.0" cy="850.1" r="4.6" fill="url(#gCell)"/><circle cx="952.5" cy="852.6" r="5.6" fill="url(#gCell)"/><circle cx="1038.3" cy="852.9" r="4.9" fill="url(#gCell)"/><circle cx="1026.0" cy="853.6" r="5.1" fill="url(#gCell)"/><circle cx="929.7" cy="854.1" r="5.7" fill="url(#gCell)"/><circle cx="981.5" cy="854.8" r="5.3" fill="url(#gCell)"/><circle cx="970.4" cy="854.9" r="6.0" fill="url(#gCell)"/><circle cx="964.8" cy="855.9" r="5.6" fill="url(#gCell)"/><circle cx="911.7" cy="856.8" r="6.0" fill="url(#gCell)"/><circle cx="997.3" cy="857.0" r="5.5" fill="url(#gCell)"/><circle cx="1008.2" cy="857.8" r="6.1" fill="url(#gCell)"/><circle cx="923.1" cy="858.1" r="6.0" fill="url(#gCell)"/><circle cx="1022.5" cy="858.7" r="4.9" fill="url(#gCell)"/><circle cx="944.0" cy="859.5" r="5.8" fill="url(#gCell)"/><circle cx="1043.4" cy="861.7" r="5.1" fill="url(#gCell)"/><circle cx="953.2" cy="862.7" r="5.8" fill="url(#gCell)"/><circle cx="933.2" cy="863.8" r="5.7" fill="url(#gCell)"/><circle cx="970.4" cy="864.3" r="5.9" fill="url(#gCell)"/><circle cx="1025.2" cy="864.3" r="4.8" fill="url(#gCell)"/><circle cx="959.0" cy="865.1" r="5.2" fill="url(#gCell)"/><circle cx="983.0" cy="865.6" r="5.8" fill="url(#gCell)"/><circle cx="992.6" cy="866.3" r="6.1" fill="url(#gCell)"/><circle cx="1005.7" cy="867.1" r="5.8" fill="url(#gCell)"/><circle cx="918.6" cy="868.8" r="4.7" fill="url(#gCell)"/><circle cx="1017.6" cy="869.1" r="5.6" fill="url(#gCell)"/><circle cx="939.4" cy="869.4" r="4.8" fill="url(#gCell)"/><circle cx="1036.4" cy="871.3" r="5.5" fill="url(#gCell)"/><circle cx="951.4" cy="872.2" r="5.9" fill="url(#gCell)"/><circle cx="927.0" cy="872.8" r="4.8" fill="url(#gCell)"/><circle cx="1031.7" cy="874.2" r="6.1" fill="url(#gCell)"/><circle cx="988.3" cy="874.7" r="5.7" fill="url(#gCell)"/><circle cx="1000.6" cy="875.1" r="5.0" fill="url(#gCell)"/><circle cx="976.5" cy="875.2" r="4.9" fill="url(#gCell)"/><circle cx="966.9" cy="875.8" r="5.3" fill="url(#gCell)"/><circle cx="1012.2" cy="876.0" r="5.9" fill="url(#gCell)"/><circle cx="1021.3" cy="879.1" r="5.5" fill="url(#gCell)"/><circle cx="946.8" cy="880.1" r="4.8" fill="url(#gCell)"/><circle cx="956.5" cy="881.4" r="4.6" fill="url(#gCell)"/><circle cx="933.9" cy="881.7" r="4.8" fill="url(#gCell)"/><circle cx="984.0" cy="883.5" r="5.9" fill="url(#gCell)"/><circle cx="993.5" cy="884.3" r="4.9" fill="url(#gCell)"/><circle cx="970.1" cy="885.1" r="5.5" fill="url(#gCell)"/><circle cx="960.7" cy="885.2" r="5.1" fill="url(#gCell)"/></g><circle cx="906" cy="848" r="6.2" fill="url(#gCell)"/><circle cx="920" cy="866" r="6.2" fill="url(#gCell)"/><circle cx="931" cy="878" r="6.2" fill="url(#gCell)"/><circle cx="946" cy="884" r="6.2" fill="url(#gCell)"/><circle cx="960" cy="888" r="6.2" fill="url(#gCell)"/><circle cx="975" cy="884" r="6.2" fill="url(#gCell)"/><circle cx="990" cy="878" r="6.2" fill="url(#gCell)"/><circle cx="1003" cy="880" r="6.2" fill="url(#gCell)"/><circle cx="1018" cy="874" r="6.2" fill="url(#gCell)"/><circle cx="1034" cy="866" r="6.2" fill="url(#gCell)"/><circle cx="1044" cy="856" r="6.2" fill="url(#gCell)"/><circle cx="1036" cy="846" r="6.2" fill="url(#gCell)"/><path d="M1017.6 748.6l1.2 -0.8M986.2 733.2l2.1 -2.9M932.8 808.2l-4.1 2.0M1030.8 785.8l3.3 -0.6M1030.8 774.0l4.3 -0.7M922.2 779.0l-5.8 1.4M1003.0 738.4l0.4 -3.2M1029.9 790.2l2.4 -0.4M944.6 741.6l-2.0 -3.6M943.1 742.6l-0.9 -2.3M931.9 807.0l-1.2 0.4M922.2 781.7l-5.6 -0.7M976.7 732.5l0.3 -2.9M1024.5 802.9l3.4 3.1M1028.1 764.1l6.3 -1.3M1008.0 741.1l1.1 -1.6M1030.8 785.7l6.4 -0.1M1027.4 762.6l4.6 -1.3M942.5 743.0l-3.0 -5.0M940.0 744.9l-0.3 -2.5M945.8 740.9l-2.7 -3.1M922.4 783.9l-0.5 -0.0M963.4 733.9l-1.8 -5.5M926.4 798.4l-3.7 2.1M989.3 733.8l0.7 -3.9M996.8 735.9l-0.4 -1.8M1020.4 808.4l3.8 1.8M1030.9 784.8l2.2 1.8M930.3 755.0l-4.5 -2.9M929.4 756.5l-5.3 -2.8M923.4 770.1l-2.9 -0.3M923.2 770.8l-3.0 -0.5M925.3 795.8l-3.4 1.1M922.4 783.7l-2.6 1.7M1009.0 741.8l2.2 -5.3M1026.0 759.8l3.8 -1.2M940.1 744.8l-1.8 -3.5M1006.3 740.1l1.8 -2.4M928.1 758.6l-5.4 -0.0M992.3 734.5l-0.1 -5.2M1023.1 755.0l1.2 -3.1M922.3 782.4l-6.7 1.5M958.1 735.4l-1.1 -3.7M1012.4 744.1l2.2 -2.4M928.2 758.4l-3.3 -1.1M935.2 749.2l-2.0 -3.5M930.7 754.6l-1.7 -3.7M933.5 809.0l-2.5 3.5M944.9 741.5l-4.6 -3.8M924.5 793.6l-3.5 -1.2M977.2 732.5l-1.2 -2.5M945.5 741.1l-2.8 -1.2M1028.0 795.9l0.6 2.0M926.6 761.4l-5.5 -1.8M941.3 743.9l-3.5 -4.7M1029.4 792.2l3.3 -1.1M1010.1 742.5l3.7 -4.6M992.4 734.5l2.7 -1.7M1006.4 740.2l0.6 -3.4M960.6 734.6l-2.1 -1.8M1009.6 742.1l3.9 -3.7M993.6 734.8l2.3 -1.0M929.3 756.6l-3.1 -3.3M939.0 745.7l-1.2 -4.2M1016.9 747.9l3.1 -2.6M1030.4 787.9l4.3 -0.1M1028.7 765.9l3.9 -0.2M1019.3 809.7l0.6 0.4M1022.2 806.1l3.3 -0.3M1024.5 757.2l0.8 -0.4M924.5 793.5l-1.5 1.8M1030.5 787.7l4.0 -0.1M1029.6 768.5l2.8 -1.1M925.6 763.6l-5.1 -3.2M1019.9 809.0l4.1 0.5M973.6 732.6l-0.4 -3.8M1017.3 748.3l2.9 -1.7M923.2 788.9l-3.4 2.3M942.3 743.2l0.1 -0.7M1024.0 756.4l1.4 -2.5M926.2 797.9l-2.0 0.4M990.5 734.1l-1.1 -2.6M1011.6 743.5l2.9 -2.4M1021.1 807.5l5.4 2.8M936.7 747.8l-0.8 -2.9M949.6 738.8l-3.2 -1.2M934.1 809.7l-1.8 1.8M1003.0 738.4l0.7 -4.3M923.0 788.1l-4.2 2.5M928.2 801.7l-5.0 2.8M988.7 733.7l2.6 -5.2M1025.7 759.2l4.9 -2.0M1019.3 809.7l2.8 2.8M948.2 739.5l-3.0 -4.0M1003.4 738.6l1.6 -3.6M987.3 733.4l1.0 -3.8M1029.0 793.3l4.6 1.2M970.9 732.8l-1.7 -1.2M983.8 732.9l0.6 -2.8M926.2 762.2l-1.2 -1.2M1009.1 741.8l4.7 -2.8M928.9 802.8l-1.8 3.0M922.7 786.6l-3.6 -1.2M943.7 742.2l-3.1 -4.3M924.6 794.0l-1.4 1.8M964.3 733.8l0.3 -2.8M922.2 780.9l-5.3 0.2M926.1 762.4l-3.9 -1.8M932.3 807.5l-2.0 -0.1M922.5 774.7l-5.7 -1.2M926.5 761.5l-6.6 -1.5M1031.1 782.7l2.5 1.3M1004.5 739.1l-0.0 -3.2M945.8 740.9l-3.6 -4.4M1010.6 742.8l2.7 -4.6M995.8 735.5l0.8 -3.5M1021.4 752.8l3.5 -2.7M926.0 797.5l-5.2 2.0M975.9 732.5l0.9 -7.5M999.0 736.6l1.4 -2.2M956.2 736.0l0.1 -3.8M974.5 732.5l1.1 -3.4M1025.0 758.1l1.4 -0.9M989.9 733.9l2.3 -6.5M924.7 765.8l-0.9 -2.3M924.6 793.9l-4.5 -0.3M1016.6 747.6l3.5 -5.1M1018.2 749.3l3.1 -0.4M1030.7 773.7l4.0 -1.4M981.2 732.7l2.1 -2.9M928.7 757.5l-3.8 -0.1M990.3 734.0l0.7 -5.7M934.4 750.0l-3.0 -2.0M928.1 758.6l-4.3 -1.1M947.2 740.1l-2.1 -2.9M945.5 741.0l-4.2 -2.6M990.4 734.0l-0.2 -2.0M954.8 736.5l-2.4 -4.8M1029.8 769.3l3.9 0.5M998.8 736.6l3.3 -3.7M1030.6 786.9l1.9 0.9M928.3 801.8l-6.6 2.9M922.6 774.3l-5.4 0.5M976.3 732.5l0.7 -5.5M924.0 767.8l-6.6 0.3M923.8 768.7l-4.0 0.6M1025.2 801.7l3.9 0.7M1029.2 792.7l3.2 -0.5M1019.0 750.0l3.0 -2.2M925.6 763.4l-4.8 -1.3M922.2 780.0l-6.4 1.4M922.2 780.4l-3.3 -0.4M930.2 804.8l-2.4 0.7M987.9 733.5l0.3 -1.4M959.6 734.9l-3.0 -3.2M922.8 786.8l-3.6 2.6M983.2 732.8l-0.2 -2.1M975.8 732.5l-1.7 -5.8M1031.0 783.8l4.5 -1.3M922.3 783.0l-1.5 1.6M925.2 764.5l-7.3 -1.5M1023.2 804.8l4.7 2.4M928.1 801.6l-3.2 0.5M1025.3 758.4l3.6 -2.0M926.2 797.8l-5.5 1.8M1029.3 767.6l4.1 -3.0M980.0 732.6l0.7 -3.9M995.6 735.4l0.7 -2.5M922.3 777.8l-0.9 -0.8M1031.2 779.2l5.4 -1.5M924.2 792.7l-6.8 1.5M985.6 733.1l0.3 -3.8M985.4 733.1l0.1 -5.2M953.6 737.0l-2.7 -3.6M1030.8 785.5l5.5 -1.5M1026.0 800.3l4.7 2.0M1017.9 748.9l3.2 -3.3M928.9 757.2l-2.3 -0.9M932.6 752.1l-6.2 -2.9M925.8 763.1l-3.0 -0.7M926.9 799.2l-2.3 3.1M929.2 803.2l-3.1 3.4M940.9 744.2l-3.6 -2.3M933.3 808.7l-4.9 3.1M924.6 794.0l-1.9 1.6M922.2 780.6l-4.8 -1.2M924.6 766.0l-1.3 1.0M1029.5 768.4l3.8 0.2M1029.1 793.2l5.4 0.2M1006.0 740.0l4.0 -6.2M1022.2 753.8l1.5 -0.0M1015.2 746.4l2.1 -2.2M1026.6 799.1l6.1 3.6M1030.1 770.6l4.0 0.4M1029.1 766.9l4.5 0.3M984.5 733.0l-0.7 -3.9M1029.3 767.5l4.3 -1.9M923.3 770.5l-4.8 -0.8M1029.1 793.2l5.4 0.9M1029.0 766.7l5.7 0.3M1031.0 775.6l2.0 0.3M1031.1 777.9l3.7 1.2M1029.6 768.6l1.9 -2.4M923.2 789.3l-5.5 1.4M966.3 733.4l-1.8 -3.9M1031.2 779.7l3.6 -1.7M929.7 755.9l-4.4 -1.8M1030.3 771.6l3.2 -2.3M1030.9 775.0l1.8 1.5M944.8 741.5l-0.1 -1.9M1029.9 790.2l3.5 2.6M978.4 732.5l-1.1 -4.6M922.2 778.2l-6.1 -1.5M1025.8 800.6l4.7 0.7M942.8 742.8l-1.3 -0.4M980.1 732.6l1.9 -1.9M1014.0 745.4l2.1 -1.9M1024.3 803.1l3.7 2.2M947.6 739.8l-1.5 -1.8M976.2 732.5l1.9 -5.2M1031.1 777.6l5.0 -0.5M1026.2 760.1l6.0 -1.3M929.9 804.4l-4.3 3.5M1030.1 789.7l2.9 0.8M928.5 802.2l-2.2 2.2M931.0 754.1l-5.1 -2.6M957.5 735.5l-1.5 -4.3M1015.8 746.9l4.4 -1.6M1018.2 749.2l1.0 -1.7M1031.0 775.6l4.5 -1.9M980.7 732.6l-1.0 -4.5M922.4 776.4l-5.0 -1.1M949.1 739.0l-1.1 -6.3M935.2 749.2l-5.6 -4.5M961.6 734.3l-1.6 -2.8M949.6 738.8l-3.8 -6.3M1029.0 793.3l5.0 1.6M1028.7 765.7l1.7 0.0M969.4 732.9l0.1 -3.2M930.3 755.1l-1.3 -1.7M932.0 752.8l-4.7 -1.5M929.2 803.2l-4.4 2.0M1026.3 799.6l1.8 -0.5M988.6 733.6l1.8 -5.2M1030.4 771.8l1.6 0.2M1023.2 804.8l4.6 3.5M951.6 737.8l-1.7 -5.7M951.2 738.0l-3.0 -5.9M1030.8 785.5l4.2 1.2M1029.5 791.8l1.8 -1.1M955.8 736.1l-0.1 -3.0M995.5 735.4l1.5 -4.3M1031.2 779.7l6.5 -1.4M1015.0 746.2l3.5 -2.0M1029.7 791.2l6.1 1.8M1030.6 787.0l3.3 1.2M1003.3 738.5l-0.2 -2.3M1030.9 775.3l1.9 -1.4M924.2 792.8l-2.6 2.5M944.3 741.8l-4.6 -2.5M926.0 816.3l-4.8 0.1M926.0 822.3l-6.9 -0.6M926.0 829.8l-3.2 0.3M926.0 805.5l-4.2 0.7M907.8 848.2l-3.9 0.2M926.0 810.4l-3.9 -2.3M1035.3 840.5l4.7 -2.7M924.5 831.5l-5.3 -1.4M1024.0 825.6l3.9 0.5M1043.6 849.8l6.8 -1.7M906.7 849.3l-5.6 -0.7M1024.0 821.6l3.8 -0.5M926.0 805.6l-4.1 -2.2M919.2 836.8l-4.8 -2.2M920.8 835.2l-6.1 -2.2M1032.8 837.8l6.0 0.8M910.0 846.0l-3.3 -2.2M1024.0 800.7l5.2 -0.5M1024.2 828.3l7.0 -1.8M926.0 802.2l-5.8 -1.3M1024.0 801.5l6.1 -1.6M1037.4 842.9l6.1 -1.1M1043.4 849.5l6.2 -1.1M914.9 841.1l-6.4 -0.9M1024.0 812.6l3.8 -2.0M926.0 801.1l-5.8 0.8M1042.9 849.0l6.1 -0.1M1024.0 808.0l3.5 -2.9M1024.0 810.7l3.1 0.3M907.3 848.7l-4.9 -2.8M911.5 844.5l-6.4 -1.6M1024.0 828.0l4.9 -0.4M926.0 810.3l-3.8 -1.6M912.0 844.0l-5.4 -2.5M1024.0 810.0l5.3 0.7M1029.6 834.3l6.0 -0.7M1031.2 836.0l3.7 -0.4M912.9 843.1l-5.9 -1.1M912.0 844.0l-3.5 -1.0M926.0 819.1l-6.2 0.6M926.0 800.2l-5.5 -0.0M926.0 801.9l-6.6 -2.2M1024.0 800.0l3.2 -2.0M909.5 846.5l-6.1 -2.8M1024.0 827.8l4.1 -2.4M926.0 800.9l-6.0 0.5M926.0 804.8l-6.2 -2.3M926.0 825.6l-5.0 0.8M926.0 819.1l-3.3 -2.9M923.6 832.4l-5.0 -0.5M926.0 829.7l-5.8 -0.4M1026.5 830.8l4.6 -3.0M918.8 837.2l-3.7 -1.0M914.1 841.9l-3.5 -0.4M1024.0 810.4l6.9 -0.5M1024.0 804.3l5.7 -2.6M926.0 811.9l-3.4 -1.9M1024.0 815.5l3.6 -0.6M907.1 848.9l-3.0 -2.7M926.0 805.7l-5.1 -1.2M926.0 820.4l-6.7 -0.1M916.2 839.8l-6.3 -0.1M926.0 801.5l-6.4 -1.3M912.1 843.9l-5.5 -1.8M926.0 812.8l-4.0 -1.8M1024.0 817.4l4.5 -2.4M1024.0 808.1l6.0 0.3M1043.5 849.7l4.1 -2.0M926.0 820.6l-4.4 -0.8M1024.0 817.8l3.0 0.1" stroke="#94c488" stroke-width="0.6" fill="none" opacity="0.7"/></g>
</svg></body></html>
